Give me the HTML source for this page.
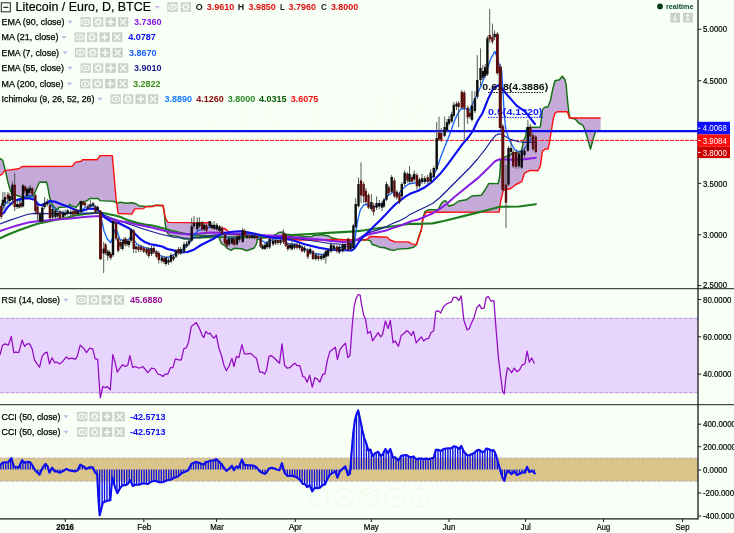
<!DOCTYPE html>
<html><head><meta charset="utf-8"><title>Litecoin / Euro, D, BTCE</title>
<style>html,body{margin:0;padding:0;background:#f7fff6;}body{width:734px;height:533px;overflow:hidden}svg{display:block}</style>
</head><body>
<svg width="734" height="533" viewBox="0 0 734 533" font-family="Liberation Sans, Arial, sans-serif">
<rect width="734" height="533" fill="#f7fff6"/>
<defs><filter id="b" filterUnits="userSpaceOnUse" x="0" y="0" width="734" height="533"><feGaussianBlur stdDeviation="0.45"/></filter><filter id="t" filterUnits="userSpaceOnUse" x="0" y="0" width="734" height="533"><feGaussianBlur stdDeviation="0.28"/></filter></defs>
<g fill="#f9fef3">
<text x="220" y="194.4" font-size="35" textLength="205" lengthAdjust="spacingAndGlyphs">Litecoin / Euro</text>
<text x="200" y="129" font-size="45" textLength="228" lengthAdjust="spacingAndGlyphs">LTCEUR</text>
</g>
<g id="main" filter="url(#b)">
<polygon points="0.0,158.4 2.8,160.3 3.9,165.0 5.9,172.9 7.9,182.0 10.5,191.3 13.1,194.5 17.0,195.5 20.3,196.5 23.0,197.8 26.3,197.2 30.2,196.5 32.8,196.8 35.4,191.3 39.4,182.2 46.4,182.0 47.6,186.0 49.2,195.2 51.2,203.0 53.8,207.0 57.7,209.8 59.0,207.4 65.2,207.0 68.6,206.0 69.6,204.3 70.7,205.7 76.1,207.4 77.5,205.7 80.2,202.0 87.0,200.9 89.7,198.5 97.9,198.5 100.0,200.6 114.0,201.4 117.4,203.4 120.0,202.2 126.8,203.2 131.8,202.7 136.0,203.8 139.4,206.0 145.3,206.5 152.9,206.0 156.3,205.2 163.0,205.5 164.2,212.0 165.2,223.8 166.9,232.2 169.0,235.2 177.4,236.4 184.1,239.0 190.9,239.0 194.3,237.3 200.0,238.0 202.5,237.5 210.0,237.5 216.0,236.0 219.0,237.5 221.3,243.5 225.0,245.8 227.3,248.3 231.0,250.3 234.0,248.3 241.5,248.8 246.8,250.8 254.3,248.0 256.6,243.5 257.3,239.8 261.0,238.3 270.0,237.0 276.0,234.5 278.5,232.5 283.0,232.0 285.3,234.3 292.0,234.8 305.0,236.6 311.7,236.6 314.0,235.3 319.0,235.0 322.7,234.5 324.6,235.3 328.9,236.0 331.3,237.8 338.0,239.3 345.0,239.6 351.8,240.0 366.3,239.7 370.2,240.6 372.2,244.5 376.8,245.8 379.4,247.2 384.7,247.8 390.0,249.8 393.9,250.4 397.8,249.1 408.3,248.5 413.6,247.2 416.4,245.0 418.7,236.8 421.3,230.0 422.8,218.2 425.0,211.6 428.8,209.7 438.1,209.7 441.0,204.1 443.8,201.0 446.0,201.0 448.5,206.0 453.2,205.0 458.8,201.0 466.3,199.8 471.9,196.0 481.3,195.3 485.0,190.0 488.8,183.5 498.2,183.6 499.7,176.0 500.6,160.6 503.4,157.7 513.2,153.5 521.7,150.7 523.4,141.0 525.6,136.6 526.8,127.6 540.3,127.0 541.4,118.6 542.5,109.5 544.8,107.3 548.0,106.8 550.4,100.5 552.7,89.3 555.0,80.7 559.4,79.8 562.3,76.2 565.0,79.8 566.2,84.8 567.3,98.3 569.0,114.0 570.0,118.0 575.2,119.0 578.6,123.0 583.0,125.3 585.3,131.0 587.6,138.8 590.5,149.0 593.2,138.8 595.5,131.6 600.6,131.0 600.6,118.0 569.5,118.0 567.3,111.8 557.2,111.8 555.0,113.0 553.3,118.6 551.5,129.8 549.3,143.3 548.0,149.0 545.2,149.0 542.5,151.2 540.3,165.9 538.0,170.8 530.0,170.4 524.5,173.2 521.7,181.7 516.0,184.5 510.4,188.7 503.4,190.0 500.6,201.4 499.2,212.1 426.0,212.2 423.1,218.2 421.3,230.0 418.7,238.0 416.4,244.6 411.6,243.9 408.3,241.9 395.2,241.9 390.0,240.0 387.3,237.3 370.2,236.5 366.3,239.7 351.8,240.0 345.0,239.8 299.4,240.0 285.0,238.5 265.0,237.5 245.0,236.0 232.5,234.0 228.4,231.5 224.7,228.4 211.2,228.0 210.0,225.5 208.9,222.8 168.1,222.4 165.6,218.7 164.2,212.0 163.0,205.5 154.6,205.5 152.9,206.5 145.3,206.9 143.6,208.6 134.9,208.9 131.8,214.1 118.1,213.5 115.9,197.3 113.6,170.3 112.3,155.6 100.0,155.6 97.2,159.7 82.5,159.7 81.4,161.3 75.3,162.4 72.4,166.2 22.1,166.5 18.8,168.8 4.7,170.6 1.9,174.4 0.0,175.3" fill="#c5a9d8" fill-rule="nonzero"/>
<polyline points="0.0,158.4 2.8,160.3 3.9,165.0 5.9,172.9 7.9,182.0 10.5,191.3 13.1,194.5 17.0,195.5 20.3,196.5 23.0,197.8 26.3,197.2 30.2,196.5 32.8,196.8 35.4,191.3 39.4,182.2 46.4,182.0 47.6,186.0 49.2,195.2 51.2,203.0 53.8,207.0 57.7,209.8 59.0,207.4 65.2,207.0 68.6,206.0 69.6,204.3 70.7,205.7 76.1,207.4 77.5,205.7 80.2,202.0 87.0,200.9 89.7,198.5 97.9,198.5 100.0,200.6 114.0,201.4 117.4,203.4 120.0,202.2 126.8,203.2 131.8,202.7 136.0,203.8 139.4,206.0 145.3,206.5 152.9,206.0 156.3,205.2 163.0,205.5 164.2,212.0 165.2,223.8 166.9,232.2 169.0,235.2 177.4,236.4 184.1,239.0 190.9,239.0 194.3,237.3 200.0,238.0 202.5,237.5 210.0,237.5 216.0,236.0 219.0,237.5 221.3,243.5 225.0,245.8 227.3,248.3 231.0,250.3 234.0,248.3 241.5,248.8 246.8,250.8 254.3,248.0 256.6,243.5 257.3,239.8 261.0,238.3 270.0,237.0 276.0,234.5 278.5,232.5 283.0,232.0 285.3,234.3 292.0,234.8 305.0,236.6 311.7,236.6 314.0,235.3 319.0,235.0 322.7,234.5 324.6,235.3 328.9,236.0 331.3,237.8 338.0,239.3 345.0,239.6 351.8,240.0 366.3,239.7 370.2,240.6 372.2,244.5 376.8,245.8 379.4,247.2 384.7,247.8 390.0,249.8 393.9,250.4 397.8,249.1 408.3,248.5 413.6,247.2 416.4,245.0 418.7,236.8 421.3,230.0 422.8,218.2 425.0,211.6 428.8,209.7 438.1,209.7 441.0,204.1 443.8,201.0 446.0,201.0 448.5,206.0 453.2,205.0 458.8,201.0 466.3,199.8 471.9,196.0 481.3,195.3 485.0,190.0 488.8,183.5 498.2,183.6 499.7,176.0 500.6,160.6 503.4,157.7 513.2,153.5 521.7,150.7 523.4,141.0 525.6,136.6 526.8,127.6 540.3,127.0 541.4,118.6 542.5,109.5 544.8,107.3 548.0,106.8 550.4,100.5 552.7,89.3 555.0,80.7 559.4,79.8 562.3,76.2 565.0,79.8 566.2,84.8 567.3,98.3 569.0,114.0 570.0,118.0 575.2,119.0 578.6,123.0 583.0,125.3 585.3,131.0 587.6,138.8 590.5,149.0 593.2,138.8 595.5,131.6 600.6,131.0" fill="none" stroke="#147014" stroke-width="1.45" stroke-linejoin="round"/>
<polyline points="0.0,175.3 1.9,174.4 4.7,170.6 18.8,168.8 22.1,166.5 72.4,166.2 75.3,162.4 81.4,161.3 82.5,159.7 97.2,159.7 100.0,155.6 112.3,155.6 113.6,170.3 115.9,197.3 118.1,213.5 131.8,214.1 134.9,208.9 143.6,208.6 145.3,206.9 152.9,206.5 154.6,205.5 163.0,205.5 164.2,212.0 165.6,218.7 168.1,222.4 208.9,222.8 210.0,225.5 211.2,228.0 224.7,228.4 228.4,231.5 232.5,234.0 245.0,236.0 265.0,237.5 285.0,238.5 299.4,240.0 345.0,239.8 351.8,240.0 366.3,239.7 370.2,236.5 387.3,237.3 390.0,240.0 395.2,241.9 408.3,241.9 411.6,243.9 416.4,244.6 418.7,238.0 421.3,230.0 423.1,218.2 426.0,212.2 499.2,212.1 500.6,201.4 503.4,190.0 510.4,188.7 516.0,184.5 521.7,181.7 524.5,173.2 530.0,170.4 538.0,170.8 540.3,165.9 542.5,151.2 545.2,149.0 548.0,149.0 549.3,143.3 551.5,129.8 553.3,118.6 555.0,113.0 557.2,111.8 567.3,111.8 569.5,118.0 600.6,118.0" fill="none" stroke="#ff1010" stroke-width="1.4" stroke-linejoin="round"/>
<line x1="0" y1="140.4" x2="698.0" y2="140.4" stroke="#f01010" stroke-width="1" stroke-dasharray="4,1"/>
<polyline points="0.0,238.2 9.4,234.0 18.8,230.3 28.0,226.9 37.5,223.7 47.0,221.7 56.0,219.8 66.0,218.0 73.5,215.8 87.0,213.8 100.5,212.5 114.0,215.3 120.0,216.7 128.4,220.4 136.9,222.9 145.3,224.6 153.8,225.8 162.2,228.0 170.6,230.5 179.0,232.5 187.5,234.2 194.3,234.9 200.0,235.6 220.0,237.0 245.0,237.3 265.0,236.8 275.0,236.4 287.5,235.4 310.0,234.0 332.6,232.6 355.0,231.4 365.0,230.3 372.5,229.0 395.0,226.0 410.0,223.8 421.3,223.8 432.5,223.4 443.8,221.0 455.0,218.2 466.3,215.4 477.5,212.6 488.8,209.7 500.0,206.8 518.9,206.5 535.8,204.2" fill="none" stroke="#1e7d1e" stroke-width="2.15" stroke-linejoin="round" stroke-linecap="round"/>
<polyline points="0.0,224.0 9.4,220.4 18.8,217.2 28.0,214.2 34.7,213.4 45.0,213.6 60.0,213.5 80.0,213.0 100.0,213.2 110.0,217.5 120.0,221.0 130.0,224.5 145.0,229.5 160.0,234.0 175.0,237.5 190.0,238.5 200.0,237.5 215.0,235.0 230.0,234.0 250.0,234.5 270.0,236.0 290.0,237.5 310.0,240.5 330.0,243.5 345.0,244.5 350.0,243.6 366.3,233.8 372.9,231.4 379.4,229.4 386.0,226.8 392.6,223.5 399.1,220.9 405.7,217.6 410.0,214.4 417.5,210.7 425.0,207.3 432.5,203.5 440.0,197.5 447.5,190.0 455.0,182.5 462.5,175.0 470.0,167.5 477.5,159.0 485.0,149.7 490.7,141.3 495.4,135.6 499.2,133.8 503.4,135.2 510.4,139.4 518.9,141.7 524.5,142.3 535.0,142.3" fill="none" stroke="#1a1a9a" stroke-width="1.15" stroke-linejoin="round"/>
<polyline points="0.0,231.0 9.4,227.9 18.8,225.0 28.0,222.6 37.5,221.3 47.0,220.4 56.0,219.4 70.0,218.5 87.0,216.7 100.5,216.0 109.5,218.7 118.6,221.0 128.4,222.6 136.9,224.6 145.3,226.3 153.8,228.0 162.2,230.2 170.6,232.2 179.0,233.5 187.5,234.2 200.0,233.4 210.0,232.5 225.0,233.0 240.0,233.8 255.0,234.5 265.0,235.3 270.0,235.4 282.0,236.2 294.5,237.2 306.8,238.4 319.0,239.6 331.3,240.9 343.6,242.0 350.0,241.6 353.1,241.2 356.0,240.4 359.7,238.6 366.3,235.3 372.9,233.4 379.4,232.0 386.0,230.5 392.6,228.1 399.1,226.1 405.7,223.5 412.3,220.9 417.5,219.7 425.0,216.7 432.5,213.5 440.0,208.8 447.5,203.2 455.0,196.6 462.5,190.4 470.0,184.4 477.5,178.4 485.0,171.3 490.7,165.6 495.4,161.0 500.0,159.3 502.0,159.2 513.2,159.7 524.5,159.2 535.8,157.7" fill="none" stroke="#8a1be6" stroke-width="2.0" stroke-linejoin="round" stroke-linecap="round"/>
<polyline points="0.0,213.0 4.0,206.0 8.0,201.0 11.0,199.0 14.0,198.0 17.0,200.0 20.0,201.0 23.0,198.0 26.0,196.0 30.0,195.5 33.0,196.0 35.4,200.4 39.4,204.4 43.3,205.7 46.0,203.0 48.6,202.4 52.5,207.0 57.8,211.5 65.0,213.0 75.4,211.8 80.0,210.8 82.5,209.5 85.0,207.5 88.5,206.0 93.0,205.7 96.0,207.2 98.6,210.4 100.5,214.2 102.7,225.0 104.0,231.0 107.3,239.0 110.7,242.8 113.0,236.7 115.2,228.8 117.4,232.2 119.7,239.0 123.0,240.6 126.8,240.6 131.0,237.3 133.5,239.0 136.9,244.0 143.6,247.4 150.4,249.0 155.4,251.6 160.5,255.8 165.6,257.5 170.6,256.7 175.7,253.3 180.8,250.8 185.8,247.4 189.2,243.2 192.6,237.3 195.0,234.0 198.0,230.8 204.0,228.5 210.0,227.0 216.0,227.8 220.5,230.0 223.5,233.8 227.3,237.5 232.5,238.3 238.5,237.5 243.0,233.8 247.6,233.8 253.6,235.7 258.0,236.8 261.8,240.5 265.6,242.8 270.0,241.0 274.0,238.8 283.0,238.8 287.5,243.3 296.5,244.5 305.5,249.0 314.5,253.5 323.6,254.6 330.3,250.0 337.0,247.8 346.0,246.7 350.0,246.5 352.5,247.5 354.5,246.0 355.8,233.4 357.7,220.2 360.4,209.7 363.7,204.8 367.6,204.5 372.5,207.6 372.5,207.6 381.5,204.2 387.2,196.3 392.8,192.3 398.4,194.0 403.0,188.4 408.6,184.0 415.3,182.8 422.0,181.7 428.8,180.7 433.5,176.0 437.2,167.5 441.0,156.3 444.7,146.9 448.5,137.5 451.3,130.0 454.2,121.5 457.5,114.0 461.0,108.8 465.4,108.5 469.4,110.4 475.0,99.0 480.7,86.7 486.3,72.0 490.8,58.6 494.9,51.4 497.6,58.6 499.8,66.4 501.6,70.0 503.2,94.6 504.3,117.0 506.2,131.0 510.4,142.3 514.6,149.3 518.9,152.0 523.0,150.7 527.3,145.0 530.0,139.4 534.4,138.0" fill="none" stroke="#1560ff" stroke-width="1.3" stroke-linejoin="round"/>
<polyline points="0.0,214.7 3.8,212.9 7.5,207.2 11.3,203.5 15.0,200.7 18.8,199.2 24.4,198.4 30.0,198.4 34.7,199.7 37.5,204.4 41.3,205.3 45.0,203.5 49.7,201.0 54.4,201.6 60.0,203.8 66.8,206.3 73.5,209.0 78.0,210.8 82.5,210.8 89.3,208.6 96.0,209.0 100.5,212.0 105.0,217.6 111.8,222.0 118.6,223.0 125.0,226.3 130.0,228.8 135.2,233.9 140.3,239.0 145.3,242.3 150.4,244.3 157.0,245.4 162.2,246.5 167.3,249.0 174.0,250.4 180.8,252.5 187.5,252.0 194.3,249.4 201.0,245.0 207.0,242.0 213.0,239.0 219.0,235.3 225.0,233.0 232.5,231.8 240.0,231.2 247.5,232.3 255.0,233.8 262.6,235.8 270.0,237.5 278.5,237.9 292.0,240.0 305.5,244.5 319.0,247.8 332.6,250.0 346.0,250.2 351.8,250.4 354.5,248.5 358.4,242.6 363.7,236.0 368.9,231.4 374.2,226.1 379.4,220.9 384.7,215.6 390.0,209.7 395.2,204.5 400.4,200.5 405.7,196.3 410.0,193.8 417.5,191.0 425.0,187.2 432.5,181.6 440.0,174.1 447.5,164.7 455.0,154.4 462.5,144.1 468.2,137.5 472.9,131.0 477.6,121.0 482.6,113.0 488.4,98.2 493.3,88.4 498.2,85.3 501.9,88.4 506.8,94.5 516.6,105.6 525.2,111.7 530.0,117.8 535.0,124.0" fill="none" stroke="#0808f0" stroke-width="2.1" stroke-linejoin="round" stroke-linecap="round"/>
<line x1="0" y1="131.1" x2="698.0" y2="131.1" stroke="#0a0af0" stroke-width="2.3"/>
<g font-weight="bold" font-size="9.8">
<text x="482.3" y="89.9" fill="#101010" textLength="66" lengthAdjust="spacingAndGlyphs">0.618(4.3886)</text>
<line x1="488" y1="92.5" x2="543" y2="92.5" stroke="#101010" stroke-width="1" stroke-dasharray="1.5,1.2"/>
<text x="488.1" y="115" fill="#1414ff" textLength="54.3" lengthAdjust="spacingAndGlyphs">0.5(4.1320)</text>
<line x1="488" y1="117.4" x2="543" y2="117.4" stroke="#1414ff" stroke-width="1" stroke-dasharray="1.5,1.2"/>
</g>
<g>
<line x1="1.3" y1="203.0" x2="1.3" y2="219.0" stroke="#4a4a4a" stroke-width="0.9"/>
<rect x="0.10" y="205.7" width="2.4" height="11.2" fill="#5c0f0f"/>
<line x1="2.9" y1="192.0" x2="2.9" y2="211.0" stroke="#4a4a4a" stroke-width="0.9"/>
<rect x="1.70" y="199.8" width="2.4" height="5.9" fill="#0c0c0c"/>
<line x1="4.9" y1="192.0" x2="4.9" y2="209.6" stroke="#4a4a4a" stroke-width="0.9"/>
<rect x="3.70" y="197.0" width="2.4" height="6.0" fill="#0c0c0c"/>
<line x1="7.9" y1="192.0" x2="7.9" y2="204.4" stroke="#4a4a4a" stroke-width="0.9"/>
<rect x="6.70" y="194.5" width="2.4" height="4.9" fill="#5c0f0f"/>
<line x1="9.7" y1="193.0" x2="9.7" y2="204.4" stroke="#4a4a4a" stroke-width="0.9"/>
<rect x="8.50" y="196.0" width="2.4" height="5.0" fill="#0c0c0c"/>
<line x1="12.4" y1="181.4" x2="12.4" y2="205.0" stroke="#4a4a4a" stroke-width="0.9"/>
<rect x="11.20" y="184.7" width="2.4" height="15.3" fill="#0c0c0c"/>
<line x1="14.7" y1="173.1" x2="14.7" y2="211.0" stroke="#4a4a4a" stroke-width="0.9"/>
<rect x="13.50" y="184.7" width="2.4" height="22.3" fill="#5c0f0f"/>
<line x1="17.2" y1="200.0" x2="17.2" y2="209.0" stroke="#4a4a4a" stroke-width="0.9"/>
<rect x="16.00" y="204.0" width="2.4" height="3.0" fill="#0c0c0c"/>
<line x1="19.3" y1="200.0" x2="19.3" y2="208.5" stroke="#4a4a4a" stroke-width="0.9"/>
<rect x="18.10" y="204.5" width="2.4" height="2.8" fill="#0c0c0c"/>
<line x1="21.0" y1="201.0" x2="21.0" y2="208.0" stroke="#4a4a4a" stroke-width="0.9"/>
<rect x="19.80" y="203.0" width="2.4" height="3.5" fill="#5c0f0f"/>
<line x1="23.0" y1="184.0" x2="23.0" y2="207.5" stroke="#4a4a4a" stroke-width="0.9"/>
<rect x="21.80" y="185.3" width="2.4" height="21.1" fill="#0c0c0c"/>
<line x1="25.0" y1="185.0" x2="25.0" y2="193.0" stroke="#4a4a4a" stroke-width="0.9"/>
<rect x="23.80" y="186.6" width="2.4" height="4.7" fill="#5c0f0f"/>
<line x1="27.0" y1="187.0" x2="27.0" y2="197.5" stroke="#4a4a4a" stroke-width="0.9"/>
<rect x="25.80" y="188.6" width="2.4" height="7.3" fill="#0c0c0c"/>
<line x1="29.0" y1="186.0" x2="29.0" y2="195.0" stroke="#4a4a4a" stroke-width="0.9"/>
<rect x="27.80" y="189.0" width="2.4" height="4.0" fill="#0c0c0c"/>
<line x1="30.4" y1="185.3" x2="30.4" y2="193.0" stroke="#4a4a4a" stroke-width="0.9"/>
<rect x="29.20" y="188.0" width="2.4" height="2.6" fill="#0c0c0c"/>
<line x1="32.3" y1="187.0" x2="32.3" y2="196.0" stroke="#4a4a4a" stroke-width="0.9"/>
<rect x="31.10" y="188.6" width="2.4" height="5.9" fill="#5c0f0f"/>
<line x1="35.4" y1="193.5" x2="35.4" y2="213.0" stroke="#4a4a4a" stroke-width="0.9"/>
<rect x="34.20" y="195.2" width="2.4" height="15.8" fill="#5c0f0f"/>
<line x1="37.5" y1="205.0" x2="37.5" y2="220.0" stroke="#4a4a4a" stroke-width="0.9"/>
<rect x="36.30" y="206.4" width="2.4" height="7.8" fill="#5c0f0f"/>
<line x1="40.0" y1="212.0" x2="40.0" y2="222.5" stroke="#4a4a4a" stroke-width="0.9"/>
<rect x="38.80" y="214.2" width="2.4" height="7.3" fill="#0c0c0c"/>
<line x1="42.3" y1="206.0" x2="42.3" y2="222.5" stroke="#4a4a4a" stroke-width="0.9"/>
<rect x="41.10" y="207.7" width="2.4" height="13.8" fill="#0c0c0c"/>
<line x1="44.6" y1="197.0" x2="44.6" y2="209.0" stroke="#4a4a4a" stroke-width="0.9"/>
<rect x="43.40" y="203.0" width="2.4" height="4.0" fill="#0c0c0c"/>
<line x1="47.3" y1="199.0" x2="47.3" y2="206.5" stroke="#4a4a4a" stroke-width="0.9"/>
<rect x="46.10" y="201.8" width="2.4" height="2.6" fill="#0c0c0c"/>
<line x1="49.9" y1="203.5" x2="49.9" y2="220.0" stroke="#4a4a4a" stroke-width="0.9"/>
<rect x="48.70" y="205.0" width="2.4" height="13.2" fill="#5c0f0f"/>
<line x1="52.5" y1="207.0" x2="52.5" y2="219.0" stroke="#4a4a4a" stroke-width="0.9"/>
<rect x="51.30" y="209.0" width="2.4" height="8.5" fill="#0c0c0c"/>
<line x1="55.4" y1="209.0" x2="55.4" y2="218.5" stroke="#4a4a4a" stroke-width="0.9"/>
<rect x="54.20" y="210.4" width="2.4" height="6.8" fill="#0c0c0c"/>
<line x1="57.6" y1="211.0" x2="57.6" y2="218.0" stroke="#4a4a4a" stroke-width="0.9"/>
<rect x="56.40" y="213.0" width="2.4" height="3.5" fill="#0c0c0c"/>
<line x1="60.1" y1="210.0" x2="60.1" y2="219.5" stroke="#4a4a4a" stroke-width="0.9"/>
<rect x="58.90" y="211.5" width="2.4" height="6.8" fill="#5c0f0f"/>
<line x1="63.2" y1="210.5" x2="63.2" y2="218.5" stroke="#4a4a4a" stroke-width="0.9"/>
<rect x="62.00" y="212.5" width="2.4" height="4.7" fill="#0c0c0c"/>
<line x1="65.2" y1="209.8" x2="65.2" y2="216.6" stroke="#4a4a4a" stroke-width="0.9"/>
<rect x="64.00" y="213.0" width="2.4" height="2.2" fill="#0c0c0c"/>
<line x1="67.6" y1="209.2" x2="67.6" y2="215.5" stroke="#4a4a4a" stroke-width="0.9"/>
<rect x="66.40" y="210.4" width="2.4" height="3.4" fill="#0c0c0c"/>
<line x1="70.7" y1="209.8" x2="70.7" y2="217.5" stroke="#4a4a4a" stroke-width="0.9"/>
<rect x="69.50" y="212.0" width="2.4" height="2.2" fill="#0c0c0c"/>
<line x1="73.0" y1="210.0" x2="73.0" y2="216.5" stroke="#4a4a4a" stroke-width="0.9"/>
<rect x="71.80" y="211.5" width="2.4" height="3.0" fill="#5c0f0f"/>
<line x1="75.4" y1="209.0" x2="75.4" y2="215.5" stroke="#4a4a4a" stroke-width="0.9"/>
<rect x="74.20" y="210.0" width="2.4" height="4.2" fill="#5c0f0f"/>
<line x1="77.8" y1="209.5" x2="77.8" y2="215.5" stroke="#4a4a4a" stroke-width="0.9"/>
<rect x="76.60" y="211.0" width="2.4" height="3.0" fill="#0c0c0c"/>
<line x1="80.9" y1="200.5" x2="80.9" y2="213.0" stroke="#4a4a4a" stroke-width="0.9"/>
<rect x="79.70" y="201.2" width="2.4" height="10.6" fill="#0c0c0c"/>
<line x1="82.9" y1="201.0" x2="82.9" y2="206.0" stroke="#4a4a4a" stroke-width="0.9"/>
<rect x="81.70" y="202.0" width="2.4" height="2.5" fill="#5c0f0f"/>
<line x1="85.0" y1="201.5" x2="85.0" y2="207.0" stroke="#4a4a4a" stroke-width="0.9"/>
<rect x="83.80" y="202.6" width="2.4" height="2.7" fill="#5c0f0f"/>
<line x1="88.0" y1="204.0" x2="88.0" y2="209.5" stroke="#4a4a4a" stroke-width="0.9"/>
<rect x="86.80" y="206.5" width="2.4" height="2.2" fill="#5c0f0f"/>
<line x1="90.4" y1="200.2" x2="90.4" y2="208.0" stroke="#4a4a4a" stroke-width="0.9"/>
<rect x="89.20" y="204.3" width="2.4" height="2.2" fill="#0c0c0c"/>
<line x1="93.1" y1="202.0" x2="93.1" y2="207.5" stroke="#4a4a4a" stroke-width="0.9"/>
<rect x="91.90" y="203.3" width="2.4" height="2.2" fill="#0c0c0c"/>
<line x1="95.5" y1="205.0" x2="95.5" y2="214.0" stroke="#4a4a4a" stroke-width="0.9"/>
<rect x="94.30" y="206.3" width="2.4" height="6.2" fill="#5c0f0f"/>
<line x1="97.7" y1="205.5" x2="97.7" y2="212.0" stroke="#4a4a4a" stroke-width="0.9"/>
<rect x="96.50" y="207.0" width="2.4" height="3.4" fill="#0c0c0c"/>
<line x1="100.5" y1="210.0" x2="100.5" y2="260.0" stroke="#4a4a4a" stroke-width="0.9"/>
<rect x="99.05" y="211.3" width="2.9" height="47.9" fill="#5c0f0f"/>
<line x1="103.7" y1="242.0" x2="103.7" y2="273.0" stroke="#4a4a4a" stroke-width="0.9"/>
<rect x="102.50" y="248.6" width="2.4" height="4.9" fill="#0c0c0c"/>
<line x1="105.6" y1="243.0" x2="105.6" y2="255.0" stroke="#4a4a4a" stroke-width="0.9"/>
<rect x="104.40" y="244.4" width="2.4" height="8.4" fill="#5c0f0f"/>
<line x1="107.7" y1="249.5" x2="107.7" y2="260.5" stroke="#4a4a4a" stroke-width="0.9"/>
<rect x="106.50" y="251.4" width="2.4" height="4.2" fill="#0c0c0c"/>
<line x1="109.3" y1="250.0" x2="109.3" y2="258.0" stroke="#4a4a4a" stroke-width="0.9"/>
<rect x="108.10" y="252.0" width="2.4" height="3.5" fill="#0c0c0c"/>
<line x1="110.8" y1="252.0" x2="110.8" y2="260.0" stroke="#4a4a4a" stroke-width="0.9"/>
<rect x="109.60" y="254.0" width="2.4" height="3.7" fill="#5c0f0f"/>
<line x1="113.0" y1="219.5" x2="113.0" y2="257.0" stroke="#4a4a4a" stroke-width="0.9"/>
<rect x="111.80" y="221.0" width="2.4" height="34.2" fill="#0c0c0c"/>
<line x1="116.1" y1="221.0" x2="116.1" y2="240.5" stroke="#4a4a4a" stroke-width="0.9"/>
<rect x="114.90" y="222.5" width="2.4" height="16.2" fill="#5c0f0f"/>
<line x1="118.2" y1="237.0" x2="118.2" y2="252.5" stroke="#4a4a4a" stroke-width="0.9"/>
<rect x="117.00" y="238.7" width="2.4" height="12.0" fill="#5c0f0f"/>
<line x1="120.4" y1="240.0" x2="120.4" y2="249.0" stroke="#4a4a4a" stroke-width="0.9"/>
<rect x="119.20" y="242.0" width="2.4" height="4.5" fill="#5c0f0f"/>
<line x1="122.5" y1="240.0" x2="122.5" y2="250.5" stroke="#4a4a4a" stroke-width="0.9"/>
<rect x="121.30" y="242.0" width="2.4" height="7.0" fill="#0c0c0c"/>
<line x1="123.9" y1="237.5" x2="123.9" y2="246.0" stroke="#4a4a4a" stroke-width="0.9"/>
<rect x="122.70" y="239.4" width="2.4" height="4.3" fill="#0c0c0c"/>
<line x1="125.6" y1="237.0" x2="125.6" y2="246.5" stroke="#4a4a4a" stroke-width="0.9"/>
<rect x="124.40" y="238.7" width="2.4" height="5.7" fill="#5c0f0f"/>
<line x1="127.2" y1="239.0" x2="127.2" y2="246.0" stroke="#4a4a4a" stroke-width="0.9"/>
<rect x="126.00" y="241.0" width="2.4" height="3.0" fill="#0c0c0c"/>
<line x1="128.9" y1="239.0" x2="128.9" y2="247.5" stroke="#4a4a4a" stroke-width="0.9"/>
<rect x="127.70" y="240.8" width="2.4" height="4.2" fill="#0c0c0c"/>
<line x1="131.0" y1="228.0" x2="131.0" y2="243.0" stroke="#4a4a4a" stroke-width="0.9"/>
<rect x="129.80" y="229.7" width="2.4" height="10.9" fill="#0c0c0c"/>
<line x1="133.7" y1="229.0" x2="133.7" y2="253.0" stroke="#4a4a4a" stroke-width="0.9"/>
<rect x="132.50" y="230.5" width="2.4" height="18.5" fill="#5c0f0f"/>
<line x1="136.0" y1="244.0" x2="136.0" y2="253.0" stroke="#4a4a4a" stroke-width="0.9"/>
<rect x="134.80" y="246.5" width="2.4" height="2.5" fill="#0c0c0c"/>
<line x1="138.5" y1="245.0" x2="138.5" y2="252.0" stroke="#4a4a4a" stroke-width="0.9"/>
<rect x="137.30" y="246.5" width="2.4" height="3.5" fill="#5c0f0f"/>
<line x1="141.0" y1="245.0" x2="141.0" y2="252.0" stroke="#4a4a4a" stroke-width="0.9"/>
<rect x="139.80" y="246.5" width="2.4" height="3.5" fill="#5c0f0f"/>
<line x1="143.7" y1="246.0" x2="143.7" y2="253.0" stroke="#4a4a4a" stroke-width="0.9"/>
<rect x="142.50" y="248.0" width="2.4" height="3.6" fill="#5c0f0f"/>
<line x1="146.5" y1="247.0" x2="146.5" y2="255.0" stroke="#4a4a4a" stroke-width="0.9"/>
<rect x="145.30" y="249.0" width="2.4" height="4.0" fill="#5c0f0f"/>
<line x1="148.7" y1="247.0" x2="148.7" y2="258.0" stroke="#4a4a4a" stroke-width="0.9"/>
<rect x="147.50" y="249.0" width="2.4" height="7.0" fill="#5c0f0f"/>
<line x1="151.5" y1="245.7" x2="151.5" y2="256.0" stroke="#4a4a4a" stroke-width="0.9"/>
<rect x="150.30" y="248.0" width="2.4" height="6.0" fill="#0c0c0c"/>
<line x1="153.8" y1="246.0" x2="153.8" y2="254.0" stroke="#4a4a4a" stroke-width="0.9"/>
<rect x="152.60" y="248.0" width="2.4" height="4.5" fill="#5c0f0f"/>
<line x1="156.5" y1="250.0" x2="156.5" y2="258.0" stroke="#4a4a4a" stroke-width="0.9"/>
<rect x="155.30" y="251.6" width="2.4" height="5.1" fill="#5c0f0f"/>
<line x1="158.8" y1="251.0" x2="158.8" y2="263.4" stroke="#4a4a4a" stroke-width="0.9"/>
<rect x="157.60" y="253.0" width="2.4" height="7.0" fill="#5c0f0f"/>
<line x1="161.8" y1="255.0" x2="161.8" y2="263.0" stroke="#4a4a4a" stroke-width="0.9"/>
<rect x="160.60" y="257.5" width="2.4" height="3.5" fill="#0c0c0c"/>
<line x1="164.0" y1="256.0" x2="164.0" y2="264.0" stroke="#4a4a4a" stroke-width="0.9"/>
<rect x="162.80" y="258.4" width="2.4" height="3.6" fill="#5c0f0f"/>
<line x1="166.0" y1="256.0" x2="166.0" y2="266.0" stroke="#4a4a4a" stroke-width="0.9"/>
<rect x="164.80" y="257.5" width="2.4" height="6.5" fill="#0c0c0c"/>
<line x1="168.5" y1="258.0" x2="168.5" y2="265.0" stroke="#4a4a4a" stroke-width="0.9"/>
<rect x="167.30" y="260.0" width="2.4" height="2.6" fill="#0c0c0c"/>
<line x1="171.0" y1="253.0" x2="171.0" y2="263.0" stroke="#4a4a4a" stroke-width="0.9"/>
<rect x="169.80" y="255.0" width="2.4" height="6.7" fill="#0c0c0c"/>
<line x1="173.5" y1="254.0" x2="173.5" y2="261.0" stroke="#4a4a4a" stroke-width="0.9"/>
<rect x="172.30" y="256.7" width="2.4" height="2.5" fill="#0c0c0c"/>
<line x1="176.0" y1="249.0" x2="176.0" y2="258.0" stroke="#4a4a4a" stroke-width="0.9"/>
<rect x="174.80" y="250.8" width="2.4" height="5.9" fill="#0c0c0c"/>
<line x1="178.5" y1="247.0" x2="178.5" y2="255.0" stroke="#4a4a4a" stroke-width="0.9"/>
<rect x="177.30" y="249.0" width="2.4" height="3.8" fill="#5c0f0f"/>
<line x1="180.7" y1="247.0" x2="180.7" y2="255.0" stroke="#4a4a4a" stroke-width="0.9"/>
<rect x="179.50" y="249.0" width="2.4" height="4.3" fill="#0c0c0c"/>
<line x1="184.0" y1="242.0" x2="184.0" y2="253.0" stroke="#4a4a4a" stroke-width="0.9"/>
<rect x="182.80" y="244.3" width="2.4" height="7.3" fill="#0c0c0c"/>
<line x1="186.5" y1="241.0" x2="186.5" y2="248.0" stroke="#4a4a4a" stroke-width="0.9"/>
<rect x="185.30" y="243.7" width="2.4" height="2.8" fill="#0c0c0c"/>
<line x1="189.0" y1="238.0" x2="189.0" y2="246.0" stroke="#4a4a4a" stroke-width="0.9"/>
<rect x="187.80" y="240.6" width="2.4" height="3.4" fill="#0c0c0c"/>
<line x1="191.7" y1="217.8" x2="191.7" y2="242.0" stroke="#4a4a4a" stroke-width="0.9"/>
<rect x="190.50" y="226.3" width="2.4" height="14.3" fill="#0c0c0c"/>
<line x1="194.0" y1="216.0" x2="194.0" y2="229.0" stroke="#4a4a4a" stroke-width="0.9"/>
<rect x="192.80" y="223.0" width="2.4" height="3.3" fill="#0c0c0c"/>
<line x1="197.3" y1="217.3" x2="197.3" y2="231.0" stroke="#4a4a4a" stroke-width="0.9"/>
<rect x="196.10" y="222.5" width="2.4" height="6.8" fill="#0c0c0c"/>
<line x1="199.4" y1="217.3" x2="199.4" y2="228.0" stroke="#4a4a4a" stroke-width="0.9"/>
<rect x="198.20" y="222.5" width="2.4" height="3.8" fill="#0c0c0c"/>
<line x1="202.2" y1="221.0" x2="202.2" y2="231.0" stroke="#4a4a4a" stroke-width="0.9"/>
<rect x="201.00" y="222.5" width="2.4" height="6.8" fill="#5c0f0f"/>
<line x1="204.3" y1="223.0" x2="204.3" y2="231.0" stroke="#4a4a4a" stroke-width="0.9"/>
<rect x="203.10" y="224.8" width="2.4" height="4.5" fill="#0c0c0c"/>
<line x1="206.5" y1="224.0" x2="206.5" y2="233.8" stroke="#4a4a4a" stroke-width="0.9"/>
<rect x="205.30" y="225.5" width="2.4" height="5.3" fill="#5c0f0f"/>
<line x1="209.7" y1="221.0" x2="209.7" y2="228.0" stroke="#4a4a4a" stroke-width="0.9"/>
<rect x="208.50" y="221.0" width="2.4" height="5.3" fill="#0c0c0c"/>
<line x1="211.8" y1="222.0" x2="211.8" y2="229.0" stroke="#4a4a4a" stroke-width="0.9"/>
<rect x="210.60" y="224.8" width="2.4" height="3.0" fill="#0c0c0c"/>
<line x1="214.2" y1="221.0" x2="214.2" y2="230.0" stroke="#4a4a4a" stroke-width="0.9"/>
<rect x="213.00" y="224.8" width="2.4" height="3.7" fill="#0c0c0c"/>
<line x1="216.8" y1="223.0" x2="216.8" y2="231.0" stroke="#4a4a4a" stroke-width="0.9"/>
<rect x="215.60" y="224.8" width="2.4" height="4.5" fill="#0c0c0c"/>
<line x1="219.5" y1="225.0" x2="219.5" y2="232.0" stroke="#4a4a4a" stroke-width="0.9"/>
<rect x="218.30" y="226.3" width="2.4" height="4.5" fill="#0c0c0c"/>
<line x1="222.0" y1="226.0" x2="222.0" y2="235.0" stroke="#4a4a4a" stroke-width="0.9"/>
<rect x="220.80" y="227.8" width="2.4" height="6.0" fill="#5c0f0f"/>
<line x1="225.0" y1="233.0" x2="225.0" y2="245.0" stroke="#4a4a4a" stroke-width="0.9"/>
<rect x="223.80" y="234.5" width="2.4" height="9.0" fill="#5c0f0f"/>
<line x1="227.0" y1="238.0" x2="227.0" y2="248.8" stroke="#4a4a4a" stroke-width="0.9"/>
<rect x="225.80" y="239.8" width="2.4" height="6.0" fill="#5c0f0f"/>
<line x1="229.2" y1="237.0" x2="229.2" y2="246.0" stroke="#4a4a4a" stroke-width="0.9"/>
<rect x="228.00" y="238.3" width="2.4" height="6.0" fill="#0c0c0c"/>
<line x1="232.2" y1="236.0" x2="232.2" y2="245.0" stroke="#4a4a4a" stroke-width="0.9"/>
<rect x="231.00" y="238.3" width="2.4" height="5.2" fill="#0c0c0c"/>
<line x1="234.3" y1="237.0" x2="234.3" y2="246.0" stroke="#4a4a4a" stroke-width="0.9"/>
<rect x="233.10" y="238.7" width="2.4" height="6.0" fill="#5c0f0f"/>
<line x1="237.0" y1="235.0" x2="237.0" y2="246.0" stroke="#4a4a4a" stroke-width="0.9"/>
<rect x="235.80" y="236.8" width="2.4" height="7.5" fill="#0c0c0c"/>
<line x1="239.3" y1="234.0" x2="239.3" y2="242.0" stroke="#4a4a4a" stroke-width="0.9"/>
<rect x="238.10" y="236.0" width="2.4" height="3.8" fill="#0c0c0c"/>
<line x1="242.7" y1="227.8" x2="242.7" y2="243.0" stroke="#4a4a4a" stroke-width="0.9"/>
<rect x="241.50" y="230.0" width="2.4" height="12.0" fill="#0c0c0c"/>
<line x1="244.8" y1="229.0" x2="244.8" y2="237.0" stroke="#4a4a4a" stroke-width="0.9"/>
<rect x="243.60" y="230.8" width="2.4" height="4.5" fill="#5c0f0f"/>
<line x1="247.0" y1="233.0" x2="247.0" y2="239.0" stroke="#4a4a4a" stroke-width="0.9"/>
<rect x="245.80" y="235.3" width="2.4" height="2.2" fill="#0c0c0c"/>
<line x1="249.5" y1="234.0" x2="249.5" y2="239.0" stroke="#4a4a4a" stroke-width="0.9"/>
<rect x="248.30" y="235.3" width="2.4" height="2.2" fill="#5c0f0f"/>
<line x1="252.0" y1="234.0" x2="252.0" y2="239.0" stroke="#4a4a4a" stroke-width="0.9"/>
<rect x="250.80" y="235.3" width="2.4" height="2.5" fill="#0c0c0c"/>
<line x1="254.5" y1="234.0" x2="254.5" y2="239.5" stroke="#4a4a4a" stroke-width="0.9"/>
<rect x="253.30" y="235.5" width="2.4" height="2.5" fill="#0c0c0c"/>
<line x1="257.0" y1="234.5" x2="257.0" y2="240.0" stroke="#4a4a4a" stroke-width="0.9"/>
<rect x="255.80" y="236.0" width="2.4" height="2.3" fill="#5c0f0f"/>
<line x1="260.6" y1="237.0" x2="260.6" y2="248.0" stroke="#4a4a4a" stroke-width="0.9"/>
<rect x="259.40" y="238.3" width="2.4" height="8.2" fill="#5c0f0f"/>
<line x1="262.6" y1="244.0" x2="262.6" y2="249.6" stroke="#4a4a4a" stroke-width="0.9"/>
<rect x="261.40" y="245.8" width="2.4" height="3.0" fill="#0c0c0c"/>
<line x1="264.8" y1="243.0" x2="264.8" y2="250.0" stroke="#4a4a4a" stroke-width="0.9"/>
<rect x="263.60" y="245.0" width="2.4" height="3.8" fill="#0c0c0c"/>
<line x1="267.0" y1="241.0" x2="267.0" y2="249.0" stroke="#4a4a4a" stroke-width="0.9"/>
<rect x="265.80" y="242.8" width="2.4" height="4.5" fill="#0c0c0c"/>
<line x1="269.6" y1="238.0" x2="269.6" y2="249.0" stroke="#4a4a4a" stroke-width="0.9"/>
<rect x="268.40" y="239.0" width="2.4" height="8.3" fill="#0c0c0c"/>
<line x1="273.0" y1="239.0" x2="273.0" y2="246.0" stroke="#4a4a4a" stroke-width="0.9"/>
<rect x="271.80" y="240.5" width="2.4" height="3.8" fill="#0c0c0c"/>
<line x1="275.5" y1="239.0" x2="275.5" y2="245.0" stroke="#4a4a4a" stroke-width="0.9"/>
<rect x="274.30" y="240.0" width="2.4" height="3.3" fill="#0c0c0c"/>
<line x1="278.0" y1="238.5" x2="278.0" y2="245.0" stroke="#4a4a4a" stroke-width="0.9"/>
<rect x="276.80" y="240.0" width="2.4" height="3.0" fill="#5c0f0f"/>
<line x1="280.5" y1="238.5" x2="280.5" y2="245.0" stroke="#4a4a4a" stroke-width="0.9"/>
<rect x="279.30" y="240.0" width="2.4" height="3.0" fill="#0c0c0c"/>
<line x1="283.5" y1="229.4" x2="283.5" y2="244.0" stroke="#4a4a4a" stroke-width="0.9"/>
<rect x="282.30" y="233.2" width="2.4" height="9.0" fill="#5c0f0f"/>
<line x1="285.7" y1="233.0" x2="285.7" y2="247.0" stroke="#4a4a4a" stroke-width="0.9"/>
<rect x="284.50" y="234.3" width="2.4" height="11.3" fill="#5c0f0f"/>
<line x1="287.8" y1="243.0" x2="287.8" y2="251.2" stroke="#4a4a4a" stroke-width="0.9"/>
<rect x="286.60" y="244.5" width="2.4" height="4.5" fill="#5c0f0f"/>
<line x1="290.0" y1="243.0" x2="290.0" y2="250.0" stroke="#4a4a4a" stroke-width="0.9"/>
<rect x="288.80" y="245.0" width="2.4" height="3.0" fill="#0c0c0c"/>
<line x1="292.0" y1="236.0" x2="292.0" y2="250.5" stroke="#4a4a4a" stroke-width="0.9"/>
<rect x="290.80" y="244.5" width="2.4" height="4.5" fill="#0c0c0c"/>
<line x1="294.5" y1="243.0" x2="294.5" y2="249.5" stroke="#4a4a4a" stroke-width="0.9"/>
<rect x="293.30" y="244.5" width="2.4" height="3.3" fill="#0c0c0c"/>
<line x1="297.0" y1="243.0" x2="297.0" y2="249.5" stroke="#4a4a4a" stroke-width="0.9"/>
<rect x="295.80" y="244.5" width="2.4" height="3.3" fill="#5c0f0f"/>
<line x1="299.5" y1="243.5" x2="299.5" y2="250.0" stroke="#4a4a4a" stroke-width="0.9"/>
<rect x="298.30" y="245.0" width="2.4" height="3.0" fill="#0c0c0c"/>
<line x1="302.0" y1="245.0" x2="302.0" y2="252.5" stroke="#4a4a4a" stroke-width="0.9"/>
<rect x="300.80" y="246.7" width="2.4" height="4.5" fill="#5c0f0f"/>
<line x1="304.5" y1="246.0" x2="304.5" y2="253.0" stroke="#4a4a4a" stroke-width="0.9"/>
<rect x="303.30" y="247.8" width="2.4" height="3.4" fill="#0c0c0c"/>
<line x1="307.8" y1="248.0" x2="307.8" y2="259.0" stroke="#4a4a4a" stroke-width="0.9"/>
<rect x="306.60" y="250.0" width="2.4" height="6.8" fill="#5c0f0f"/>
<line x1="310.2" y1="247.5" x2="310.2" y2="255.0" stroke="#4a4a4a" stroke-width="0.9"/>
<rect x="309.00" y="249.0" width="2.4" height="4.5" fill="#0c0c0c"/>
<line x1="313.0" y1="250.0" x2="313.0" y2="260.0" stroke="#4a4a4a" stroke-width="0.9"/>
<rect x="311.80" y="251.2" width="2.4" height="7.8" fill="#5c0f0f"/>
<line x1="315.7" y1="253.0" x2="315.7" y2="260.5" stroke="#4a4a4a" stroke-width="0.9"/>
<rect x="314.50" y="254.6" width="2.4" height="4.4" fill="#0c0c0c"/>
<line x1="318.4" y1="254.0" x2="318.4" y2="261.0" stroke="#4a4a4a" stroke-width="0.9"/>
<rect x="317.20" y="255.7" width="2.4" height="3.3" fill="#5c0f0f"/>
<line x1="321.3" y1="254.0" x2="321.3" y2="260.5" stroke="#4a4a4a" stroke-width="0.9"/>
<rect x="320.10" y="255.7" width="2.4" height="3.3" fill="#0c0c0c"/>
<line x1="323.8" y1="253.0" x2="323.8" y2="260.0" stroke="#4a4a4a" stroke-width="0.9"/>
<rect x="322.60" y="254.6" width="2.4" height="3.4" fill="#0c0c0c"/>
<line x1="325.8" y1="250.0" x2="325.8" y2="263.6" stroke="#4a4a4a" stroke-width="0.9"/>
<rect x="324.60" y="251.2" width="2.4" height="5.6" fill="#0c0c0c"/>
<line x1="328.0" y1="248.5" x2="328.0" y2="257.0" stroke="#4a4a4a" stroke-width="0.9"/>
<rect x="326.80" y="250.0" width="2.4" height="5.7" fill="#0c0c0c"/>
<line x1="331.0" y1="242.2" x2="331.0" y2="253.0" stroke="#4a4a4a" stroke-width="0.9"/>
<rect x="329.80" y="244.5" width="2.4" height="6.7" fill="#0c0c0c"/>
<line x1="333.7" y1="244.0" x2="333.7" y2="251.0" stroke="#4a4a4a" stroke-width="0.9"/>
<rect x="332.50" y="245.6" width="2.4" height="3.4" fill="#0c0c0c"/>
<line x1="336.8" y1="245.0" x2="336.8" y2="253.0" stroke="#4a4a4a" stroke-width="0.9"/>
<rect x="335.60" y="246.7" width="2.4" height="4.5" fill="#5c0f0f"/>
<line x1="339.3" y1="245.0" x2="339.3" y2="254.0" stroke="#4a4a4a" stroke-width="0.9"/>
<rect x="338.10" y="246.7" width="2.4" height="5.6" fill="#0c0c0c"/>
<line x1="342.7" y1="243.0" x2="342.7" y2="252.5" stroke="#4a4a4a" stroke-width="0.9"/>
<rect x="341.50" y="244.5" width="2.4" height="6.7" fill="#0c0c0c"/>
<line x1="345.0" y1="243.0" x2="345.0" y2="251.0" stroke="#4a4a4a" stroke-width="0.9"/>
<rect x="343.80" y="244.5" width="2.4" height="4.5" fill="#0c0c0c"/>
<line x1="348.3" y1="237.5" x2="348.3" y2="251.5" stroke="#4a4a4a" stroke-width="0.9"/>
<rect x="347.10" y="238.8" width="2.4" height="11.2" fill="#5c0f0f"/>
<line x1="350.6" y1="242.0" x2="350.6" y2="250.5" stroke="#4a4a4a" stroke-width="0.9"/>
<rect x="349.40" y="243.3" width="2.4" height="5.7" fill="#0c0c0c"/>
<line x1="353.4" y1="224.0" x2="353.4" y2="249.0" stroke="#4a4a4a" stroke-width="0.9"/>
<rect x="352.20" y="225.4" width="2.4" height="22.6" fill="#0c0c0c"/>
<line x1="355.7" y1="198.3" x2="355.7" y2="228.0" stroke="#4a4a4a" stroke-width="0.9"/>
<rect x="354.50" y="204.0" width="2.4" height="23.0" fill="#0c0c0c"/>
<line x1="358.5" y1="177.5" x2="358.5" y2="207.5" stroke="#4a4a4a" stroke-width="0.9"/>
<rect x="357.30" y="184.0" width="2.4" height="22.3" fill="#0c0c0c"/>
<line x1="361.0" y1="162.4" x2="361.0" y2="202.8" stroke="#4a4a4a" stroke-width="0.9"/>
<rect x="359.80" y="180.4" width="2.4" height="15.1" fill="#5c0f0f"/>
<line x1="363.6" y1="182.0" x2="363.6" y2="203.0" stroke="#4a4a4a" stroke-width="0.9"/>
<rect x="362.40" y="184.0" width="2.4" height="12.3" fill="#5c0f0f"/>
<line x1="365.8" y1="188.0" x2="365.8" y2="204.0" stroke="#4a4a4a" stroke-width="0.9"/>
<rect x="364.60" y="190.7" width="2.4" height="11.3" fill="#5c0f0f"/>
<line x1="368.5" y1="193.0" x2="368.5" y2="209.0" stroke="#4a4a4a" stroke-width="0.9"/>
<rect x="367.30" y="195.0" width="2.4" height="12.6" fill="#5c0f0f"/>
<line x1="371.4" y1="194.0" x2="371.4" y2="211.0" stroke="#4a4a4a" stroke-width="0.9"/>
<rect x="370.20" y="202.0" width="2.4" height="7.0" fill="#0c0c0c"/>
<line x1="373.6" y1="203.0" x2="373.6" y2="215.5" stroke="#4a4a4a" stroke-width="0.9"/>
<rect x="372.40" y="205.3" width="2.4" height="6.7" fill="#5c0f0f"/>
<line x1="376.6" y1="196.3" x2="376.6" y2="210.0" stroke="#4a4a4a" stroke-width="0.9"/>
<rect x="375.40" y="203.0" width="2.4" height="4.6" fill="#0c0c0c"/>
<line x1="379.3" y1="200.0" x2="379.3" y2="209.0" stroke="#4a4a4a" stroke-width="0.9"/>
<rect x="378.10" y="203.0" width="2.4" height="3.5" fill="#0c0c0c"/>
<line x1="382.0" y1="201.0" x2="382.0" y2="211.0" stroke="#4a4a4a" stroke-width="0.9"/>
<rect x="380.80" y="203.0" width="2.4" height="4.6" fill="#0c0c0c"/>
<line x1="383.9" y1="198.0" x2="383.9" y2="208.0" stroke="#4a4a4a" stroke-width="0.9"/>
<rect x="382.70" y="199.7" width="2.4" height="6.7" fill="#0c0c0c"/>
<line x1="386.5" y1="181.7" x2="386.5" y2="201.0" stroke="#4a4a4a" stroke-width="0.9"/>
<rect x="385.30" y="184.0" width="2.4" height="15.7" fill="#0c0c0c"/>
<line x1="388.7" y1="185.0" x2="388.7" y2="195.0" stroke="#4a4a4a" stroke-width="0.9"/>
<rect x="387.50" y="187.3" width="2.4" height="5.7" fill="#5c0f0f"/>
<line x1="391.7" y1="175.0" x2="391.7" y2="193.0" stroke="#4a4a4a" stroke-width="0.9"/>
<rect x="390.50" y="177.0" width="2.4" height="14.8" fill="#0c0c0c"/>
<line x1="394.4" y1="178.0" x2="394.4" y2="198.0" stroke="#4a4a4a" stroke-width="0.9"/>
<rect x="393.20" y="180.5" width="2.4" height="15.8" fill="#5c0f0f"/>
<line x1="396.8" y1="190.0" x2="396.8" y2="199.5" stroke="#4a4a4a" stroke-width="0.9"/>
<rect x="395.60" y="191.8" width="2.4" height="5.7" fill="#5c0f0f"/>
<line x1="399.5" y1="192.0" x2="399.5" y2="204.0" stroke="#4a4a4a" stroke-width="0.9"/>
<rect x="398.30" y="194.0" width="2.4" height="8.0" fill="#5c0f0f"/>
<line x1="401.8" y1="182.0" x2="401.8" y2="198.0" stroke="#4a4a4a" stroke-width="0.9"/>
<rect x="400.60" y="184.0" width="2.4" height="12.3" fill="#0c0c0c"/>
<line x1="404.7" y1="170.4" x2="404.7" y2="186.0" stroke="#4a4a4a" stroke-width="0.9"/>
<rect x="403.50" y="172.7" width="2.4" height="11.3" fill="#0c0c0c"/>
<line x1="407.4" y1="172.0" x2="407.4" y2="183.0" stroke="#4a4a4a" stroke-width="0.9"/>
<rect x="406.20" y="173.8" width="2.4" height="6.7" fill="#5c0f0f"/>
<line x1="409.5" y1="166.0" x2="409.5" y2="183.5" stroke="#4a4a4a" stroke-width="0.9"/>
<rect x="408.30" y="173.8" width="2.4" height="7.9" fill="#0c0c0c"/>
<line x1="412.0" y1="175.0" x2="412.0" y2="184.0" stroke="#4a4a4a" stroke-width="0.9"/>
<rect x="410.80" y="177.0" width="2.4" height="4.7" fill="#5c0f0f"/>
<line x1="414.2" y1="170.4" x2="414.2" y2="181.5" stroke="#4a4a4a" stroke-width="0.9"/>
<rect x="413.00" y="173.8" width="2.4" height="5.6" fill="#0c0c0c"/>
<line x1="416.9" y1="173.0" x2="416.9" y2="189.5" stroke="#4a4a4a" stroke-width="0.9"/>
<rect x="415.70" y="175.0" width="2.4" height="11.2" fill="#5c0f0f"/>
<line x1="419.4" y1="177.5" x2="419.4" y2="188.0" stroke="#4a4a4a" stroke-width="0.9"/>
<rect x="418.20" y="179.4" width="2.4" height="6.8" fill="#0c0c0c"/>
<line x1="422.0" y1="173.8" x2="422.0" y2="184.0" stroke="#4a4a4a" stroke-width="0.9"/>
<rect x="420.80" y="178.3" width="2.4" height="3.4" fill="#0c0c0c"/>
<line x1="424.8" y1="176.0" x2="424.8" y2="184.0" stroke="#4a4a4a" stroke-width="0.9"/>
<rect x="423.60" y="178.3" width="2.4" height="3.4" fill="#0c0c0c"/>
<line x1="427.7" y1="175.0" x2="427.7" y2="184.0" stroke="#4a4a4a" stroke-width="0.9"/>
<rect x="426.50" y="177.0" width="2.4" height="4.7" fill="#5c0f0f"/>
<line x1="430.6" y1="169.3" x2="430.6" y2="183.5" stroke="#4a4a4a" stroke-width="0.9"/>
<rect x="429.40" y="172.7" width="2.4" height="9.0" fill="#0c0c0c"/>
<line x1="433.8" y1="166.0" x2="433.8" y2="179.0" stroke="#4a4a4a" stroke-width="0.9"/>
<rect x="432.60" y="168.0" width="2.4" height="9.0" fill="#0c0c0c"/>
<line x1="436.7" y1="122.0" x2="436.7" y2="171.0" stroke="#4a4a4a" stroke-width="0.9"/>
<rect x="435.50" y="138.2" width="2.4" height="31.1" fill="#0c0c0c"/>
<line x1="439.0" y1="116.6" x2="439.0" y2="141.0" stroke="#4a4a4a" stroke-width="0.9"/>
<rect x="437.80" y="132.6" width="2.4" height="7.1" fill="#5c0f0f"/>
<line x1="441.2" y1="128.0" x2="441.2" y2="142.0" stroke="#4a4a4a" stroke-width="0.9"/>
<rect x="440.00" y="133.0" width="2.4" height="6.7" fill="#5c0f0f"/>
<line x1="444.6" y1="116.6" x2="444.6" y2="137.0" stroke="#4a4a4a" stroke-width="0.9"/>
<rect x="443.40" y="127.0" width="2.4" height="8.8" fill="#0c0c0c"/>
<line x1="447.0" y1="119.0" x2="447.0" y2="132.0" stroke="#4a4a4a" stroke-width="0.9"/>
<rect x="445.80" y="122.2" width="2.4" height="8.0" fill="#0c0c0c"/>
<line x1="449.0" y1="116.0" x2="449.0" y2="126.0" stroke="#4a4a4a" stroke-width="0.9"/>
<rect x="447.80" y="119.0" width="2.4" height="4.8" fill="#0c0c0c"/>
<line x1="451.7" y1="111.8" x2="451.7" y2="123.0" stroke="#4a4a4a" stroke-width="0.9"/>
<rect x="450.50" y="114.2" width="2.4" height="7.2" fill="#0c0c0c"/>
<line x1="453.8" y1="102.0" x2="453.8" y2="117.5" stroke="#4a4a4a" stroke-width="0.9"/>
<rect x="452.60" y="104.7" width="2.4" height="11.1" fill="#0c0c0c"/>
<line x1="456.5" y1="101.5" x2="456.5" y2="110.0" stroke="#4a4a4a" stroke-width="0.9"/>
<rect x="455.30" y="103.8" width="2.4" height="2.7" fill="#0c0c0c"/>
<line x1="458.6" y1="101.0" x2="458.6" y2="127.0" stroke="#4a4a4a" stroke-width="0.9"/>
<rect x="457.40" y="103.0" width="2.4" height="4.0" fill="#5c0f0f"/>
<line x1="461.8" y1="90.0" x2="461.8" y2="109.5" stroke="#4a4a4a" stroke-width="0.9"/>
<rect x="460.60" y="91.9" width="2.4" height="15.9" fill="#5c0f0f"/>
<line x1="464.3" y1="90.5" x2="464.3" y2="139.7" stroke="#4a4a4a" stroke-width="0.9"/>
<rect x="463.10" y="92.5" width="2.4" height="15.3" fill="#5c0f0f"/>
<line x1="467.7" y1="105.5" x2="467.7" y2="123.8" stroke="#4a4a4a" stroke-width="0.9"/>
<rect x="466.50" y="107.8" width="2.4" height="9.6" fill="#5c0f0f"/>
<line x1="470.0" y1="110.0" x2="470.0" y2="119.0" stroke="#4a4a4a" stroke-width="0.9"/>
<rect x="468.80" y="112.6" width="2.4" height="4.0" fill="#5c0f0f"/>
<line x1="472.0" y1="91.1" x2="472.0" y2="121.5" stroke="#4a4a4a" stroke-width="0.9"/>
<rect x="470.80" y="105.5" width="2.4" height="14.3" fill="#0c0c0c"/>
<line x1="474.9" y1="91.1" x2="474.9" y2="113.0" stroke="#4a4a4a" stroke-width="0.9"/>
<rect x="473.70" y="98.3" width="2.4" height="12.7" fill="#0c0c0c"/>
<line x1="477.3" y1="55.2" x2="477.3" y2="99.0" stroke="#4a4a4a" stroke-width="0.9"/>
<rect x="476.10" y="80.0" width="2.4" height="16.7" fill="#0c0c0c"/>
<line x1="480.5" y1="48.4" x2="480.5" y2="86.0" stroke="#4a4a4a" stroke-width="0.9"/>
<rect x="479.30" y="68.0" width="2.4" height="12.0" fill="#0c0c0c"/>
<line x1="482.8" y1="65.3" x2="482.8" y2="80.0" stroke="#4a4a4a" stroke-width="0.9"/>
<rect x="481.60" y="71.0" width="2.4" height="6.6" fill="#0c0c0c"/>
<line x1="485.2" y1="64.0" x2="485.2" y2="78.0" stroke="#4a4a4a" stroke-width="0.9"/>
<rect x="484.00" y="67.0" width="2.4" height="9.0" fill="#0c0c0c"/>
<line x1="487.4" y1="36.0" x2="487.4" y2="76.0" stroke="#4a4a4a" stroke-width="0.9"/>
<rect x="486.20" y="38.3" width="2.4" height="36.0" fill="#0c0c0c"/>
<line x1="489.7" y1="9.0" x2="489.7" y2="42.8" stroke="#4a4a4a" stroke-width="0.9"/>
<rect x="488.50" y="35.0" width="2.4" height="4.4" fill="#5c0f0f"/>
<line x1="492.4" y1="23.6" x2="492.4" y2="44.0" stroke="#4a4a4a" stroke-width="0.9"/>
<rect x="491.20" y="37.0" width="2.4" height="4.7" fill="#5c0f0f"/>
<line x1="494.6" y1="30.4" x2="494.6" y2="40.0" stroke="#4a4a4a" stroke-width="0.9"/>
<rect x="493.40" y="33.8" width="2.4" height="3.4" fill="#0c0c0c"/>
<line x1="497.4" y1="32.0" x2="497.4" y2="75.0" stroke="#4a4a4a" stroke-width="0.9"/>
<rect x="495.95" y="33.8" width="2.9" height="39.4" fill="#5c0f0f"/>
<line x1="500.3" y1="64.0" x2="500.3" y2="130.0" stroke="#4a4a4a" stroke-width="0.9"/>
<rect x="498.75" y="66.4" width="3.1" height="61.6" fill="#5c0f0f"/>
<line x1="502.8" y1="124.0" x2="502.8" y2="192.0" stroke="#4a4a4a" stroke-width="0.9"/>
<rect x="501.30" y="126.0" width="3.0" height="64.0" fill="#5c0f0f"/>
<line x1="506.0" y1="164.8" x2="506.0" y2="228.2" stroke="#4a4a4a" stroke-width="0.9"/>
<rect x="504.80" y="184.5" width="2.4" height="18.3" fill="#5c0f0f"/>
<line x1="508.5" y1="146.0" x2="508.5" y2="186.0" stroke="#4a4a4a" stroke-width="0.9"/>
<rect x="507.30" y="148.0" width="2.4" height="36.5" fill="#0c0c0c"/>
<line x1="511.0" y1="141.0" x2="511.0" y2="155.0" stroke="#4a4a4a" stroke-width="0.9"/>
<rect x="509.80" y="148.0" width="2.4" height="4.0" fill="#0c0c0c"/>
<line x1="513.2" y1="150.0" x2="513.2" y2="168.0" stroke="#4a4a4a" stroke-width="0.9"/>
<rect x="512.00" y="152.0" width="2.4" height="14.2" fill="#5c0f0f"/>
<line x1="516.0" y1="150.0" x2="516.0" y2="169.0" stroke="#4a4a4a" stroke-width="0.9"/>
<rect x="514.80" y="152.0" width="2.4" height="15.0" fill="#5c0f0f"/>
<line x1="518.9" y1="151.0" x2="518.9" y2="168.5" stroke="#4a4a4a" stroke-width="0.9"/>
<rect x="517.70" y="153.5" width="2.4" height="12.7" fill="#0c0c0c"/>
<line x1="521.7" y1="148.0" x2="521.7" y2="169.0" stroke="#4a4a4a" stroke-width="0.9"/>
<rect x="520.50" y="150.7" width="2.4" height="16.9" fill="#0c0c0c"/>
<line x1="524.5" y1="147.0" x2="524.5" y2="158.0" stroke="#4a4a4a" stroke-width="0.9"/>
<rect x="523.30" y="150.7" width="2.4" height="4.3" fill="#0c0c0c"/>
<line x1="527.9" y1="119.7" x2="527.9" y2="152.0" stroke="#4a4a4a" stroke-width="0.9"/>
<rect x="526.70" y="126.8" width="2.4" height="23.9" fill="#0c0c0c"/>
<line x1="530.3" y1="124.0" x2="530.3" y2="139.0" stroke="#4a4a4a" stroke-width="0.9"/>
<rect x="529.10" y="126.8" width="2.4" height="9.8" fill="#5c0f0f"/>
<line x1="533.0" y1="133.0" x2="533.0" y2="151.0" stroke="#4a4a4a" stroke-width="0.9"/>
<rect x="531.80" y="135.2" width="2.4" height="14.1" fill="#5c0f0f"/>
<line x1="535.8" y1="135.0" x2="535.8" y2="153.5" stroke="#4a4a4a" stroke-width="0.9"/>
<rect x="534.60" y="136.6" width="2.4" height="15.4" fill="#5c0f0f"/>
</g>
</g>
<g id="rsi" filter="url(#b)">
<rect x="0" y="318.3" width="698.0" height="74.4" fill="#e8d5fd"/>
<line x1="0" y1="318.3" x2="698.0" y2="318.3" stroke="#b37fdc" stroke-width="0.8" stroke-dasharray="4,1.3"/>
<line x1="0" y1="392.7" x2="698.0" y2="392.7" stroke="#b37fdc" stroke-width="0.8" stroke-dasharray="4,1.3"/>
<polyline points="0.0,355.2 2.5,345.2 5.0,343.9 8.3,345.2 11.3,336.4 13.8,352.7 16.3,352.2 18.8,352.7 22.1,340.1 24.6,346.4 27.1,343.9 29.6,343.9 32.1,348.9 34.6,360.2 37.1,363.9 39.6,367.2 42.1,356.4 44.6,353.2 47.1,352.2 49.4,363.9 52.1,357.7 54.6,362.7 57.1,362.2 59.6,363.9 62.7,361.4 66.4,356.9 68.9,358.9 72.2,358.2 75.2,359.4 77.2,356.4 80.2,345.2 83.5,348.2 86.5,352.7 89.7,348.2 92.7,348.9 95.2,358.9 97.7,359.4 99.0,380.2 100.3,397.8 102.8,386.5 105.3,387.8 107.3,386.5 110.3,389.8 112.8,354.7 114.8,361.4 117.3,372.2 120.3,367.7 122.8,364.7 125.3,366.5 127.8,365.2 129.8,355.7 132.8,367.7 135.3,366.5 139.1,368.2 142.9,366.5 147.9,372.7 151.6,368.2 154.9,369.0 157.9,374.0 160.4,374.7 162.9,376.5 165.4,374.0 167.9,374.0 170.4,367.7 172.9,367.7 175.4,358.9 177.9,359.7 180.0,360.2 181.3,359.7 183.8,348.9 186.3,347.7 188.3,343.1 191.3,326.4 193.8,324.6 196.3,322.6 198.8,327.1 202.1,335.1 203.8,337.6 205.8,331.4 208.1,333.9 210.1,333.1 212.1,336.4 214.1,338.1 216.3,335.1 218.8,347.7 221.4,355.2 223.9,365.2 226.4,370.7 228.9,366.5 231.9,358.4 233.9,366.5 236.4,356.4 238.9,357.7 241.9,344.6 244.4,353.9 247.7,353.9 250.9,353.4 253.9,356.4 256.4,358.2 259.7,372.2 262.2,372.0 264.7,374.0 266.5,370.2 269.0,356.4 271.5,355.7 274.0,357.7 276.5,360.2 279.5,363.2 282.0,343.9 284.5,365.2 287.3,368.2 289.8,367.7 292.3,365.2 294.8,363.2 297.3,365.7 299.8,365.7 302.8,376.5 304.8,377.2 307.1,382.2 309.6,375.2 312.3,387.0 314.8,377.7 317.3,379.0 319.8,382.2 322.9,374.0 324.9,374.0 327.4,360.2 329.9,351.4 332.4,349.7 335.4,347.2 337.4,359.7 339.9,349.7 342.4,346.4 345.4,343.1 347.9,357.7 350.0,355.3 352.2,325.9 354.1,306.8 356.0,298.6 358.2,294.5 360.1,295.1 361.7,305.4 363.6,315.0 365.5,319.1 367.7,333.5 370.4,331.3 372.6,340.9 375.3,336.8 378.1,332.7 380.8,336.8 382.7,334.0 385.4,321.0 388.1,328.6 390.3,320.4 393.1,342.8 395.0,340.9 398.5,346.3 401.2,335.4 404.0,333.5 406.7,330.8 408.6,331.9 411.3,335.4 413.5,331.3 416.2,342.8 418.9,339.5 421.4,336.8 423.6,340.9 426.3,338.7 428.5,338.7 430.9,332.7 433.7,330.8 435.8,311.4 438.6,310.9 440.7,313.1 443.5,306.8 446.2,304.1 448.9,303.0 451.4,301.9 453.5,297.3 456.3,297.3 459.0,300.5 461.2,295.9 463.9,320.4 467.2,330.0 469.3,328.6 472.1,321.8 474.0,317.7 476.7,308.2 479.4,304.6 481.6,308.7 484.1,308.2 486.2,297.3 488.4,296.7 491.1,301.3 493.9,300.5 495.8,325.9 498.5,358.6 501.2,380.4 502.6,391.3 504.2,394.0 505.9,377.6 507.5,367.6 509.4,369.5 511.6,372.7 514.3,368.1 516.8,371.6 519.5,370.0 522.2,364.8 524.9,364.0 527.1,351.2 529.3,362.1 531.7,358.0 534.5,363.5" fill="none" stroke="#9208c0" stroke-width="1.25" stroke-linejoin="round"/>
</g>
<g stroke="#ecfbe8" stroke-width="1.1" fill="none">
<circle cx="319" cy="497.5" r="9.3"/>
<path d="M320.5,493.5l-3.5,4l3.5,4"/>
<circle cx="344" cy="497.5" r="9.3"/>
<path d="M340.5,497.5h7"/>
<circle cx="369" cy="497.5" r="9.3"/>
<path d="M372,495a4,4 0 1 0 1,3.5"/>
<circle cx="394.4" cy="497.5" r="9.3"/>
<path d="M390.9,497.5h7M394.4,494v7"/>
<circle cx="419.5" cy="497.5" r="9.3"/>
<path d="M418.0,493.5l3.5,4l-3.5,4"/>
</g>
<g id="cci" filter="url(#t)">
<rect x="0" y="458" width="698.0" height="23.2" fill="#d9c589"/>
<line x1="0" y1="458" x2="698.0" y2="458" stroke="#bfa8bc" stroke-width="0.8" stroke-dasharray="4,1.3"/>
<line x1="0" y1="481.2" x2="698.0" y2="481.2" stroke="#bfa8bc" stroke-width="0.8" stroke-dasharray="4,1.3"/>
<path d="M0.8,469.6V464.7M3.3,469.6V462.5M5.7,469.6V462.2M8.2,469.6V462.2M10.7,469.6V458.9M13.2,469.6V464.2M15.6,469.6V467.0M18.1,469.6V467.2M20.6,469.6V463.5M23.0,469.6V461.1M25.5,469.6V462.4M28.0,469.6V462.0M30.4,469.6V462.7M32.9,469.6V466.3M35.4,469.6V470.5M37.8,469.6V472.9M40.3,469.6V473.0M42.8,469.6V467.5M45.3,469.6V464.3M47.7,469.6V466.9M50.2,469.6V471.2M52.7,469.6V468.5M55.1,469.6V471.4M57.6,469.6V471.7M60.1,469.6V472.5M62.5,469.6V471.5M70.0,469.6V470.4M72.4,469.6V470.9M74.9,469.6V471.3M79.8,469.6V465.5M82.3,469.6V465.8M84.8,469.6V467.5M87.2,469.6V468.5M89.7,469.6V467.2M92.2,469.6V467.2M94.7,469.6V471.5M97.1,469.6V474.3M99.6,469.6V514.0M102.1,469.6V505.7M104.5,469.6V501.9M107.0,469.6V500.9M109.5,469.6V500.4M111.9,469.6V481.2M114.4,469.6V485.1M116.9,469.6V492.1M119.4,469.6V489.4M121.8,469.6V486.2M124.3,469.6V485.2M126.8,469.6V484.5M129.2,469.6V481.8M131.7,469.6V483.5M134.2,469.6V485.3M136.6,469.6V484.7M139.1,469.6V484.7M141.6,469.6V483.7M144.1,469.6V483.4M146.5,469.6V483.8M149.0,469.6V483.3M151.5,469.6V481.6M153.9,469.6V481.0M156.4,469.6V481.1M158.9,469.6V482.1M161.3,469.6V482.2M163.8,469.6V481.7M166.3,469.6V480.4M168.8,469.6V479.9M171.2,469.6V479.3M173.7,469.6V478.0M176.2,469.6V477.0M178.6,469.6V475.8M181.1,469.6V473.8M183.6,469.6V472.4M186.0,469.6V471.4M191.0,469.6V464.6M193.5,469.6V462.9M195.9,469.6V462.0M198.4,469.6V462.6M200.9,469.6V463.5M203.3,469.6V464.5M205.8,469.6V461.9M208.3,469.6V461.8M210.7,469.6V460.6M213.2,469.6V460.3M215.7,469.6V459.4M218.2,469.6V460.8M220.6,469.6V463.2M223.1,469.6V466.5M230.5,469.6V467.2M233.0,469.6V468.1M235.4,469.6V467.8M237.9,469.6V466.9M240.4,469.6V463.4M242.9,469.6V461.6M245.3,469.6V464.8M247.8,469.6V465.2M250.3,469.6V465.2M252.7,469.6V465.5M255.2,469.6V466.5M260.1,469.6V471.6M262.6,469.6V472.9M265.1,469.6V473.6M267.6,469.6V470.9M270.0,469.6V468.1M272.5,469.6V467.9M275.0,469.6V468.7M282.4,469.6V464.6M284.9,469.6V473.1M287.3,469.6V475.9M289.8,469.6V475.9M292.3,469.6V475.9M294.7,469.6V476.4M297.2,469.6V477.6M299.7,469.6V479.6M302.1,469.6V483.1M304.6,469.6V484.0M307.1,469.6V487.2M309.6,469.6V485.2M312.0,469.6V490.8M314.5,469.6V488.2M317.0,469.6V488.1M319.4,469.6V487.8M321.9,469.6V485.7M324.4,469.6V484.7M326.8,469.6V480.2M329.3,469.6V475.7M331.8,469.6V473.6M334.3,469.6V472.1M336.7,469.6V475.6M339.2,469.6V473.2M344.1,469.6V467.5M346.6,469.6V470.6M349.1,469.6V474.3M351.5,469.6V452.9M354.0,469.6V427.2M356.5,469.6V414.7M359.0,469.6V413.8M361.4,469.6V425.6M363.9,469.6V436.8M366.4,469.6V443.8M368.8,469.6V450.2M371.3,469.6V452.2M373.8,469.6V454.7M376.2,469.6V452.7M378.7,469.6V452.7M381.2,469.6V455.6M383.7,469.6V452.6M386.1,469.6V450.1M388.6,469.6V452.2M391.1,469.6V451.4M393.5,469.6V457.7M396.0,469.6V458.1M398.5,469.6V460.5M400.9,469.6V456.3M403.4,469.6V455.4M405.9,469.6V455.1M408.4,469.6V456.2M410.8,469.6V457.1M413.3,469.6V456.5M415.8,469.6V458.9M418.2,469.6V458.8M420.7,469.6V458.6M423.2,469.6V459.0M425.6,469.6V458.7M428.1,469.6V459.0M430.6,469.6V458.7M433.1,469.6V458.0M435.5,469.6V451.0M438.0,469.6V449.9M440.5,469.6V450.9M442.9,469.6V449.4M445.4,469.6V448.6M447.9,469.6V448.3M450.3,469.6V448.2M452.8,469.6V446.9M455.3,469.6V446.7M457.8,469.6V448.0M460.2,469.6V447.2M462.7,469.6V449.1M465.2,469.6V453.1M467.6,469.6V455.3M470.1,469.6V454.9M472.6,469.6V453.8M475.0,469.6V452.1M477.5,469.6V450.2M480.0,469.6V450.4M482.5,469.6V451.8M484.9,469.6V450.5M487.4,469.6V448.8M489.9,469.6V449.8M492.3,469.6V450.4M494.8,469.6V452.3M497.3,469.6V459.7M499.7,469.6V468.4M502.2,469.6V476.6M504.7,469.6V479.2M507.2,469.6V471.7M509.6,469.6V472.4M512.1,469.6V473.6M514.6,469.6V471.8M517.0,469.6V474.8M519.5,469.6V474.1M522.0,469.6V472.4M524.4,469.6V472.7M526.9,469.6V467.3M529.4,469.6V472.2M531.9,469.6V470.9M534.3,469.6V472.9" stroke="#0808e0" stroke-width="1.3" fill="none"/>
<polyline points="0.0,465.7 2.5,462.7 5.0,462.2 8.3,462.2 11.3,458.1 13.8,466.4 16.3,467.2 18.8,467.2 22.1,460.2 24.6,462.7 27.1,461.9 30.1,462.2 32.6,465.7 35.1,470.2 37.6,472.7 39.6,474.7 42.6,467.7 45.6,463.9 47.6,466.4 49.4,472.7 52.1,467.7 54.6,471.4 57.1,471.4 59.6,472.7 62.7,471.4 66.4,468.9 68.9,470.2 72.2,470.9 75.2,471.4 77.7,470.2 80.2,464.7 83.5,466.4 86.5,468.9 89.7,467.2 92.7,467.2 95.2,472.7 97.2,474.4 98.5,500.3 99.7,515.3 102.8,502.8 105.3,501.5 107.3,500.8 110.3,500.3 112.3,477.2 114.8,486.5 117.3,493.2 120.3,487.7 122.8,485.2 125.3,485.2 127.8,484.0 130.3,480.2 132.8,486.0 135.3,484.7 139.1,484.7 142.9,483.2 147.9,484.0 151.6,481.5 155.4,480.7 159.1,482.2 162.9,482.2 166.7,480.2 170.4,479.7 174.2,477.7 177.9,476.4 180.0,474.7 182.5,472.7 185.0,471.9 188.3,470.2 191.3,463.9 193.8,462.7 196.3,461.9 198.8,462.7 202.1,463.9 203.8,464.7 205.8,461.9 208.1,461.9 210.1,460.7 214.1,460.2 216.3,459.1 218.8,461.4 221.4,463.9 223.9,467.7 226.4,470.9 228.9,468.9 231.9,465.7 233.9,470.2 236.4,466.4 238.9,467.2 241.9,459.6 244.4,464.7 247.7,465.2 250.9,465.2 253.9,465.7 256.4,467.2 259.7,471.4 262.2,472.7 264.7,473.9 266.5,472.7 269.0,468.4 271.5,467.7 274.0,468.2 276.5,469.4 279.5,470.2 282.0,463.2 284.5,472.7 287.3,475.9 289.8,475.9 292.3,475.9 294.8,476.4 297.3,477.7 299.8,479.7 302.8,484.0 304.8,484.0 307.1,487.2 309.6,485.2 312.3,491.5 314.8,487.7 317.3,488.2 319.8,487.7 322.9,484.7 324.9,484.7 327.4,478.9 329.9,474.7 332.4,473.2 335.4,471.4 337.4,477.7 339.9,471.4 342.4,468.9 345.4,466.4 347.9,475.2 350.0,473.6 351.4,454.5 353.3,432.7 354.9,420.4 356.8,413.6 358.2,410.4 360.1,419.1 362.3,430.0 364.2,438.1 366.3,443.6 368.3,450.4 370.4,449.6 372.6,455.9 375.3,453.1 378.1,451.8 380.8,455.9 382.7,454.5 385.4,449.0 388.1,453.1 390.3,449.0 393.1,457.8 395.0,457.2 398.5,460.5 401.2,455.9 404.0,455.3 406.7,455.0 408.6,456.4 411.3,457.2 413.5,456.4 416.2,459.4 418.9,458.6 421.4,458.6 423.6,459.1 426.3,458.6 428.5,459.1 430.9,458.6 433.7,457.8 435.8,449.9 438.6,449.9 440.7,451.0 443.5,449.0 446.2,448.5 448.9,448.2 451.4,448.2 453.5,446.3 456.3,446.9 459.0,449.0 461.2,445.8 463.9,451.8 467.2,455.3 469.3,455.3 472.1,454.0 474.0,453.1 476.7,450.4 479.4,449.9 481.6,451.8 484.1,451.8 486.2,448.5 488.4,449.0 491.1,450.4 493.9,450.4 495.8,454.5 498.5,464.0 501.2,473.6 502.6,477.7 504.2,480.9 505.9,474.9 507.5,470.8 509.4,472.2 511.6,474.1 514.3,471.4 516.8,474.9 519.5,474.1 522.2,472.2 524.9,472.8 527.1,466.8 529.3,472.2 531.7,470.8 534.5,473.0 535.3,474.1" fill="none" stroke="#0808f0" stroke-width="2.1" stroke-linejoin="round"/>
</g>
<g filter="url(#t)">
<g stroke="#1c1c1c">
<line x1="0" y1="288.6" x2="734" y2="288.6" stroke-width="1.4" stroke="#4c4c4c"/>
<line x1="0" y1="404.6" x2="734" y2="404.6" stroke-width="1.4" stroke="#4c4c4c"/>
<line x1="0" y1="518.9" x2="698.0" y2="518.9" stroke-width="1.2"/>
<line x1="698.0" y1="0" x2="698.0" y2="519.5" stroke-width="1.3"/>
<line x1="698.0" y1="29.3" x2="701.2" y2="29.3" stroke-width="1"/>
<line x1="698.0" y1="80.7" x2="701.2" y2="80.7" stroke-width="1"/>
<line x1="698.0" y1="183.4" x2="701.2" y2="183.4" stroke-width="1"/>
<line x1="698.0" y1="234.8" x2="701.2" y2="234.8" stroke-width="1"/>
<line x1="698.0" y1="285.6" x2="701.2" y2="285.6" stroke-width="1"/>
<line x1="698.0" y1="299.5" x2="701.2" y2="299.5" stroke-width="1"/>
<line x1="698.0" y1="336.8" x2="701.2" y2="336.8" stroke-width="1"/>
<line x1="698.0" y1="374.1" x2="701.2" y2="374.1" stroke-width="1"/>
<line x1="698.0" y1="424.2" x2="701.2" y2="424.2" stroke-width="1"/>
<line x1="698.0" y1="446.7" x2="701.2" y2="446.7" stroke-width="1"/>
<line x1="698.0" y1="470" x2="701.2" y2="470" stroke-width="1"/>
<line x1="698.0" y1="493" x2="701.2" y2="493" stroke-width="1"/>
<line x1="698.0" y1="516" x2="701.2" y2="516" stroke-width="1"/>
<line x1="65.3" y1="518.9" x2="65.3" y2="522" stroke-width="1"/>
<line x1="143.8" y1="518.9" x2="143.8" y2="522" stroke-width="1"/>
<line x1="216.6" y1="518.9" x2="216.6" y2="522" stroke-width="1"/>
<line x1="295.3" y1="518.9" x2="295.3" y2="522" stroke-width="1"/>
<line x1="371.3" y1="518.9" x2="371.3" y2="522" stroke-width="1"/>
<line x1="449" y1="518.9" x2="449" y2="522" stroke-width="1"/>
<line x1="525.7" y1="518.9" x2="525.7" y2="522" stroke-width="1"/>
<line x1="603.5" y1="518.9" x2="603.5" y2="522" stroke-width="1"/>
<line x1="682.6" y1="518.9" x2="682.6" y2="522" stroke-width="1"/>
</g>
<g font-size="8.6" fill="#000" stroke="#000" stroke-width="0.2">
<text x="703" y="32.4" textLength="24" lengthAdjust="spacingAndGlyphs">5.0000</text>
<text x="703" y="83.8" textLength="24" lengthAdjust="spacingAndGlyphs">4.5000</text>
<text x="703" y="186.5" textLength="24" lengthAdjust="spacingAndGlyphs">3.5000</text>
<text x="703" y="237.9" textLength="24" lengthAdjust="spacingAndGlyphs">3.0000</text>
<text x="703" y="288.3" textLength="24" lengthAdjust="spacingAndGlyphs">2.5000</text>
<text x="703" y="302.6" textLength="28.5" lengthAdjust="spacingAndGlyphs">80.0000</text>
<text x="703" y="339.9" textLength="28.5" lengthAdjust="spacingAndGlyphs">60.0000</text>
<text x="703" y="377.2" textLength="28.5" lengthAdjust="spacingAndGlyphs">40.0000</text>
<text x="703" y="427.3" textLength="33" lengthAdjust="spacingAndGlyphs">400.0000</text>
<text x="703" y="449.8" textLength="33" lengthAdjust="spacingAndGlyphs">200.0000</text>
<text x="703" y="473.1" textLength="24" lengthAdjust="spacingAndGlyphs">0.0000</text>
<text x="703" y="496.1" textLength="35.5" lengthAdjust="spacingAndGlyphs">-200.0000</text>
<text x="703" y="519.1" textLength="35.5" lengthAdjust="spacingAndGlyphs">-400.0000</text>
</g>
<rect x="697.4" y="121.8" width="32.6" height="12.6" fill="#0a0aff"/>
<rect x="697.4" y="134.4" width="32.6" height="12.3" fill="#ff0a0a"/>
<rect x="697.4" y="146.7" width="32.6" height="11.4" fill="#cc0000"/>
<g stroke="#ffffff" stroke-width="1">
<line x1="698.0" y1="128.2" x2="700.5" y2="128.2"/>
<line x1="698.0" y1="140.4" x2="700.5" y2="140.4"/>
<line x1="698.0" y1="152.4" x2="700.5" y2="152.4"/>
</g>
<g font-size="8.3" fill="#ffffff">
<text x="702.8" y="131.3" textLength="24" lengthAdjust="spacingAndGlyphs">4.0068</text>
<text x="702.8" y="143.5" textLength="24" lengthAdjust="spacingAndGlyphs">3.9084</text>
<text x="702.8" y="155.5" textLength="24" lengthAdjust="spacingAndGlyphs">3.8000</text>
</g>
<g font-size="8.7" fill="#000" stroke="#000" stroke-width="0.2" text-anchor="middle">
<text x="65.2" y="530.2" font-weight="bold" textLength="17.7" lengthAdjust="spacingAndGlyphs">2016</text>
<text x="144.2" y="530.2" textLength="13.9" lengthAdjust="spacingAndGlyphs">Feb</text>
<text x="217.1" y="530.2" textLength="13.6" lengthAdjust="spacingAndGlyphs">Mar</text>
<text x="295.3" y="530.2" textLength="13.2" lengthAdjust="spacingAndGlyphs">Apr</text>
<text x="371.3" y="530.2" textLength="15" lengthAdjust="spacingAndGlyphs">May</text>
<text x="449" y="530.2" textLength="12.6" lengthAdjust="spacingAndGlyphs">Jun</text>
<text x="525.7" y="530.2" textLength="9.8" lengthAdjust="spacingAndGlyphs">Jul</text>
<text x="603.5" y="530.2" textLength="13.4" lengthAdjust="spacingAndGlyphs">Aug</text>
<text x="682.6" y="530.2" textLength="14" lengthAdjust="spacingAndGlyphs">Sep</text>
</g>
<rect x="1.3" y="2.8" width="9" height="9" fill="#fdfffb" stroke="#222" stroke-width="1"/>
<line x1="3.3" y1="7.3" x2="8.3" y2="7.3" stroke="#222" stroke-width="1.2"/>
<text x="15.5" y="11.3" font-size="12.6" fill="#000" stroke="#000" stroke-width="0.2" textLength="135.5" lengthAdjust="spacingAndGlyphs">Litecoin / Euro, D, BTCE</text>
<path d="M154.7,5.9h5.2l-2.6,3z" fill="#cdb3e6"/>
<rect x="167.3" y="2.3" width="10.3" height="9.6" fill="#cbd1ca"/>
<ellipse cx="172.5" cy="7.1" rx="3.7" ry="2.6" fill="none" stroke="#f6faf4" stroke-width="1.3"/><circle cx="172.5" cy="7.1" r="1.2" fill="#f4f8f2"/>
<rect x="180.6" y="2.3" width="10.3" height="9.6" fill="#cbd1ca"/>
<path d="M188.02,7.10L189.87,7.10M187.35,8.70L188.66,10.01M185.75,9.37L185.75,11.22M184.15,8.70L182.84,10.01M183.48,7.10L181.63,7.10M184.15,5.50L182.84,4.19M185.75,4.83L185.75,2.98M187.35,5.50L188.66,4.19" stroke="#f6faf4" stroke-width="1.25"/><circle cx="185.8" cy="7.1" r="2.27" fill="none" stroke="#f6faf4" stroke-width="1.35"/>
<g font-size="9.2" font-weight="bold">
<text x="195.8" y="10" fill="#1a1a1a" textLength="7" lengthAdjust="spacingAndGlyphs">O</text>
<text x="206.8" y="10" fill="#e01010" textLength="27.3" lengthAdjust="spacingAndGlyphs">3.9610</text>
<text x="237.8" y="10" fill="#1a1a1a" textLength="6.4" lengthAdjust="spacingAndGlyphs">H</text>
<text x="248.5" y="10" fill="#e01010" textLength="27.3" lengthAdjust="spacingAndGlyphs">3.9850</text>
<text x="280" y="10" fill="#1a1a1a" textLength="4.8" lengthAdjust="spacingAndGlyphs">L</text>
<text x="288.6" y="10" fill="#e01010" textLength="27.3" lengthAdjust="spacingAndGlyphs">3.7960</text>
<text x="321" y="10" fill="#1a1a1a" textLength="6" lengthAdjust="spacingAndGlyphs">C</text>
<text x="330.9" y="10" fill="#e01010" textLength="27.3" lengthAdjust="spacingAndGlyphs">3.8000</text>
</g>
<text x="1.5" y="25.0" font-size="9.1" fill="#000" stroke="#000" stroke-width="0.25" textLength="63" lengthAdjust="spacingAndGlyphs">EMA (90, close)</text>
<path d="M67.4,20.7h5.2l-2.6,3z" fill="#cdb3e6"/>
<rect x="80.5" y="17.2" width="10.3" height="9.5" fill="#cbd1ca"/>
<ellipse cx="85.7" cy="21.9" rx="3.7" ry="2.6" fill="none" stroke="#f6faf4" stroke-width="1.3"/><circle cx="85.7" cy="21.9" r="1.2" fill="#f4f8f2"/>
<rect x="93.0" y="17.2" width="10.3" height="9.5" fill="#cbd1ca"/>
<path d="M100.42,21.95L102.27,21.95M99.75,23.55L101.06,24.86M98.15,24.22L98.15,26.07M96.55,23.55L95.24,24.86M95.88,21.95L94.03,21.95M96.55,20.35L95.24,19.04M98.15,19.68L98.15,17.83M99.75,20.35L101.06,19.04" stroke="#f6faf4" stroke-width="1.25"/><circle cx="98.2" cy="21.9" r="2.27" fill="none" stroke="#f6faf4" stroke-width="1.35"/>
<rect x="105.5" y="17.2" width="10.3" height="9.5" fill="#cbd1ca"/>
<path d="M107.3,21.9H114.0M110.7,18.6V25.3" stroke="#f6faf4" stroke-width="1.8"/>
<rect x="118.0" y="17.2" width="10.3" height="9.5" fill="#cbd1ca"/>
<path d="M120.1,18.9L126.2,25.0M126.2,18.9L120.1,25.0" stroke="#f6faf4" stroke-width="1.5"/>
<text x="134" y="25.0" font-size="9.2" font-weight="bold" fill="#8a14f0" textLength="27.6" lengthAdjust="spacingAndGlyphs">3.7360</text>
<text x="1.5" y="40.2" font-size="9.1" fill="#000" stroke="#000" stroke-width="0.25" textLength="57" lengthAdjust="spacingAndGlyphs">MA (21, close)</text>
<path d="M61.4,35.9h5.2l-2.6,3z" fill="#cdb3e6"/>
<rect x="74.5" y="32.4" width="10.3" height="9.5" fill="#cbd1ca"/>
<ellipse cx="79.7" cy="37.2" rx="3.7" ry="2.6" fill="none" stroke="#f6faf4" stroke-width="1.3"/><circle cx="79.7" cy="37.2" r="1.2" fill="#f4f8f2"/>
<rect x="87.0" y="32.4" width="10.3" height="9.5" fill="#cbd1ca"/>
<path d="M94.42,37.15L96.27,37.15M93.75,38.75L95.06,40.06M92.15,39.42L92.15,41.27M90.55,38.75L89.24,40.06M89.88,37.15L88.03,37.15M90.55,35.55L89.24,34.24M92.15,34.88L92.15,33.03M93.75,35.55L95.06,34.24" stroke="#f6faf4" stroke-width="1.25"/><circle cx="92.2" cy="37.2" r="2.27" fill="none" stroke="#f6faf4" stroke-width="1.35"/>
<rect x="99.5" y="32.4" width="10.3" height="9.5" fill="#cbd1ca"/>
<path d="M101.3,37.2H108.0M104.7,33.8V40.5" stroke="#f6faf4" stroke-width="1.8"/>
<rect x="112.0" y="32.4" width="10.3" height="9.5" fill="#cbd1ca"/>
<path d="M114.1,34.1L120.2,40.2M120.2,34.1L114.1,40.2" stroke="#f6faf4" stroke-width="1.5"/>
<text x="128.2" y="40.2" font-size="9.2" font-weight="bold" fill="#0a0af0" textLength="27.6" lengthAdjust="spacingAndGlyphs">4.0787</text>
<text x="1.5" y="55.6" font-size="9.1" fill="#000" stroke="#000" stroke-width="0.25" textLength="57.5" lengthAdjust="spacingAndGlyphs">EMA (7, close)</text>
<path d="M62.4,51.3h5.2l-2.6,3z" fill="#cdb3e6"/>
<rect x="75.0" y="47.8" width="10.3" height="9.5" fill="#cbd1ca"/>
<ellipse cx="80.2" cy="52.6" rx="3.7" ry="2.6" fill="none" stroke="#f6faf4" stroke-width="1.3"/><circle cx="80.2" cy="52.6" r="1.2" fill="#f4f8f2"/>
<rect x="87.5" y="47.8" width="10.3" height="9.5" fill="#cbd1ca"/>
<path d="M94.92,52.55L96.77,52.55M94.25,54.15L95.56,55.46M92.65,54.82L92.65,56.67M91.05,54.15L89.74,55.46M90.38,52.55L88.53,52.55M91.05,50.95L89.74,49.64M92.65,50.28L92.65,48.43M94.25,50.95L95.56,49.64" stroke="#f6faf4" stroke-width="1.25"/><circle cx="92.7" cy="52.6" r="2.27" fill="none" stroke="#f6faf4" stroke-width="1.35"/>
<rect x="100.0" y="47.8" width="10.3" height="9.5" fill="#cbd1ca"/>
<path d="M101.8,52.6H108.5M105.2,49.2V55.9" stroke="#f6faf4" stroke-width="1.8"/>
<rect x="112.5" y="47.8" width="10.3" height="9.5" fill="#cbd1ca"/>
<path d="M114.6,49.5L120.7,55.6M120.7,49.5L114.6,55.6" stroke="#f6faf4" stroke-width="1.5"/>
<text x="129" y="55.6" font-size="9.2" font-weight="bold" fill="#1c5cff" textLength="27.6" lengthAdjust="spacingAndGlyphs">3.8670</text>
<text x="1.5" y="71.1" font-size="9.1" fill="#000" stroke="#000" stroke-width="0.25" textLength="62.5" lengthAdjust="spacingAndGlyphs">EMA (55, close)</text>
<path d="M67.4,66.8h5.2l-2.6,3z" fill="#cdb3e6"/>
<rect x="80.5" y="63.3" width="10.3" height="9.5" fill="#cbd1ca"/>
<ellipse cx="85.7" cy="68.0" rx="3.7" ry="2.6" fill="none" stroke="#f6faf4" stroke-width="1.3"/><circle cx="85.7" cy="68.0" r="1.2" fill="#f4f8f2"/>
<rect x="93.0" y="63.3" width="10.3" height="9.5" fill="#cbd1ca"/>
<path d="M100.42,68.05L102.27,68.05M99.75,69.65L101.06,70.96M98.15,70.32L98.15,72.17M96.55,69.65L95.24,70.96M95.88,68.05L94.03,68.05M96.55,66.45L95.24,65.14M98.15,65.78L98.15,63.93M99.75,66.45L101.06,65.14" stroke="#f6faf4" stroke-width="1.25"/><circle cx="98.2" cy="68.0" r="2.27" fill="none" stroke="#f6faf4" stroke-width="1.35"/>
<rect x="105.5" y="63.3" width="10.3" height="9.5" fill="#cbd1ca"/>
<path d="M107.3,68.0H114.0M110.7,64.7V71.4" stroke="#f6faf4" stroke-width="1.8"/>
<rect x="118.0" y="63.3" width="10.3" height="9.5" fill="#cbd1ca"/>
<path d="M120.1,65.0L126.2,71.1M126.2,65.0L120.1,71.1" stroke="#f6faf4" stroke-width="1.5"/>
<text x="134" y="71.1" font-size="9.2" font-weight="bold" fill="#1c1c90" textLength="27.6" lengthAdjust="spacingAndGlyphs">3.9010</text>
<text x="1.5" y="86.7" font-size="9.1" fill="#000" stroke="#000" stroke-width="0.25" textLength="62" lengthAdjust="spacingAndGlyphs">MA (200, close)</text>
<path d="M66.9,82.4h5.2l-2.6,3z" fill="#cdb3e6"/>
<rect x="80.0" y="78.9" width="10.3" height="9.5" fill="#cbd1ca"/>
<ellipse cx="85.2" cy="83.7" rx="3.7" ry="2.6" fill="none" stroke="#f6faf4" stroke-width="1.3"/><circle cx="85.2" cy="83.7" r="1.2" fill="#f4f8f2"/>
<rect x="92.5" y="78.9" width="10.3" height="9.5" fill="#cbd1ca"/>
<path d="M99.92,83.65L101.77,83.65M99.25,85.25L100.56,86.56M97.65,85.92L97.65,87.77M96.05,85.25L94.74,86.56M95.38,83.65L93.53,83.65M96.05,82.05L94.74,80.74M97.65,81.38L97.65,79.53M99.25,82.05L100.56,80.74" stroke="#f6faf4" stroke-width="1.25"/><circle cx="97.7" cy="83.7" r="2.27" fill="none" stroke="#f6faf4" stroke-width="1.35"/>
<rect x="105.0" y="78.9" width="10.3" height="9.5" fill="#cbd1ca"/>
<path d="M106.8,83.7H113.5M110.2,80.3V87.0" stroke="#f6faf4" stroke-width="1.8"/>
<rect x="117.5" y="78.9" width="10.3" height="9.5" fill="#cbd1ca"/>
<path d="M119.6,80.6L125.7,86.7M125.7,80.6L119.6,86.7" stroke="#f6faf4" stroke-width="1.5"/>
<text x="133" y="86.7" font-size="9.2" font-weight="bold" fill="#3a8a1a" textLength="27.6" lengthAdjust="spacingAndGlyphs">3.2822</text>
<text x="1.5" y="102.1" font-size="9.1" fill="#000" stroke="#000" stroke-width="0.25" textLength="93" lengthAdjust="spacingAndGlyphs">Ichimoku (9, 26, 52, 26)</text>
<path d="M97.4,97.8h5.2l-2.6,3z" fill="#cdb3e6"/>
<rect x="110.5" y="94.3" width="10.3" height="9.5" fill="#cbd1ca"/>
<ellipse cx="115.7" cy="99.0" rx="3.7" ry="2.6" fill="none" stroke="#f6faf4" stroke-width="1.3"/><circle cx="115.7" cy="99.0" r="1.2" fill="#f4f8f2"/>
<rect x="123.0" y="94.3" width="10.3" height="9.5" fill="#cbd1ca"/>
<path d="M130.42,99.05L132.27,99.05M129.75,100.65L131.06,101.96M128.15,101.32L128.15,103.17M126.55,100.65L125.24,101.96M125.88,99.05L124.03,99.05M126.55,97.45L125.24,96.14M128.15,96.78L128.15,94.93M129.75,97.45L131.06,96.14" stroke="#f6faf4" stroke-width="1.25"/><circle cx="128.2" cy="99.0" r="2.27" fill="none" stroke="#f6faf4" stroke-width="1.35"/>
<rect x="135.5" y="94.3" width="10.3" height="9.5" fill="#cbd1ca"/>
<path d="M137.3,99.0H144.0M140.7,95.7V102.4" stroke="#f6faf4" stroke-width="1.8"/>
<rect x="148.0" y="94.3" width="10.3" height="9.5" fill="#cbd1ca"/>
<path d="M150.1,96.0L156.2,102.1M156.2,96.0L150.1,102.1" stroke="#f6faf4" stroke-width="1.5"/>
<text x="164.5" y="102.1" font-size="9.2" font-weight="bold" fill="#1a7aff" textLength="27.6" lengthAdjust="spacingAndGlyphs">3.8890</text>
<text x="196.3" y="102.1" font-size="9.2" font-weight="bold" fill="#8a0a0a" textLength="27.6" lengthAdjust="spacingAndGlyphs">4.1260</text>
<text x="227.7" y="102.1" font-size="9.2" font-weight="bold" fill="#2a8a2a" textLength="27.6" lengthAdjust="spacingAndGlyphs">3.8000</text>
<text x="259" y="102.1" font-size="9.2" font-weight="bold" fill="#0a5a0a" textLength="27.6" lengthAdjust="spacingAndGlyphs">4.0315</text>
<text x="290.8" y="102.1" font-size="9.2" font-weight="bold" fill="#f01010" textLength="27.6" lengthAdjust="spacingAndGlyphs">3.6075</text>
<text x="1.5" y="303.0" font-size="9.1" fill="#000" stroke="#000" stroke-width="0.25" textLength="58.5" lengthAdjust="spacingAndGlyphs">RSI (14, close)</text>
<path d="M63.4,298.7h5.2l-2.6,3z" fill="#cdb3e6"/>
<rect x="76.4" y="295.2" width="10.3" height="9.5" fill="#cbd1ca"/>
<ellipse cx="81.6" cy="299.9" rx="3.7" ry="2.6" fill="none" stroke="#f6faf4" stroke-width="1.3"/><circle cx="81.6" cy="299.9" r="1.2" fill="#f4f8f2"/>
<rect x="88.9" y="295.2" width="10.3" height="9.5" fill="#cbd1ca"/>
<path d="M96.32,299.95L98.17,299.95M95.65,301.55L96.96,302.86M94.05,302.22L94.05,304.07M92.45,301.55L91.14,302.86M91.78,299.95L89.93,299.95M92.45,298.35L91.14,297.04M94.05,297.68L94.05,295.83M95.65,298.35L96.96,297.04" stroke="#f6faf4" stroke-width="1.25"/><circle cx="94.1" cy="299.9" r="2.27" fill="none" stroke="#f6faf4" stroke-width="1.35"/>
<rect x="101.4" y="295.2" width="10.3" height="9.5" fill="#cbd1ca"/>
<path d="M103.2,299.9H109.9M106.6,296.6V303.3" stroke="#f6faf4" stroke-width="1.8"/>
<rect x="113.9" y="295.2" width="10.3" height="9.5" fill="#cbd1ca"/>
<path d="M116.0,296.9L122.1,303.0M122.1,296.9L116.0,303.0" stroke="#f6faf4" stroke-width="1.5"/>
<text x="130" y="303.0" font-size="9.2" font-weight="bold" fill="#9a0a9a" textLength="32.4" lengthAdjust="spacingAndGlyphs">45.6880</text>
<text x="1.5" y="419.6" font-size="9.1" fill="#000" stroke="#000" stroke-width="0.25" textLength="59" lengthAdjust="spacingAndGlyphs">CCI (50, close)</text>
<path d="M63.4,415.3h5.2l-2.6,3z" fill="#cdb3e6"/>
<rect x="77.0" y="411.8" width="10.3" height="9.5" fill="#cbd1ca"/>
<ellipse cx="82.2" cy="416.6" rx="3.7" ry="2.6" fill="none" stroke="#f6faf4" stroke-width="1.3"/><circle cx="82.2" cy="416.6" r="1.2" fill="#f4f8f2"/>
<rect x="89.5" y="411.8" width="10.3" height="9.5" fill="#cbd1ca"/>
<path d="M96.92,416.55L98.77,416.55M96.25,418.15L97.56,419.46M94.65,418.82L94.65,420.67M93.05,418.15L91.74,419.46M92.38,416.55L90.53,416.55M93.05,414.95L91.74,413.64M94.65,414.28L94.65,412.43M96.25,414.95L97.56,413.64" stroke="#f6faf4" stroke-width="1.25"/><circle cx="94.7" cy="416.6" r="2.27" fill="none" stroke="#f6faf4" stroke-width="1.35"/>
<rect x="102.0" y="411.8" width="10.3" height="9.5" fill="#cbd1ca"/>
<path d="M103.8,416.6H110.5M107.2,413.2V419.9" stroke="#f6faf4" stroke-width="1.8"/>
<rect x="114.5" y="411.8" width="10.3" height="9.5" fill="#cbd1ca"/>
<path d="M116.6,413.5L122.7,419.6M122.7,413.5L116.6,419.6" stroke="#f6faf4" stroke-width="1.5"/>
<text x="130" y="419.6" font-size="9.2" font-weight="bold" fill="#0a0af0" textLength="35.5" lengthAdjust="spacingAndGlyphs">-42.5713</text>
<text x="1.5" y="435.1" font-size="9.1" fill="#000" stroke="#000" stroke-width="0.25" textLength="59" lengthAdjust="spacingAndGlyphs">CCI (50, close)</text>
<path d="M63.4,430.8h5.2l-2.6,3z" fill="#cdb3e6"/>
<rect x="77.0" y="427.3" width="10.3" height="9.5" fill="#cbd1ca"/>
<ellipse cx="82.2" cy="432.1" rx="3.7" ry="2.6" fill="none" stroke="#f6faf4" stroke-width="1.3"/><circle cx="82.2" cy="432.1" r="1.2" fill="#f4f8f2"/>
<rect x="89.5" y="427.3" width="10.3" height="9.5" fill="#cbd1ca"/>
<path d="M96.92,432.05L98.77,432.05M96.25,433.65L97.56,434.96M94.65,434.32L94.65,436.17M93.05,433.65L91.74,434.96M92.38,432.05L90.53,432.05M93.05,430.45L91.74,429.14M94.65,429.78L94.65,427.93M96.25,430.45L97.56,429.14" stroke="#f6faf4" stroke-width="1.25"/><circle cx="94.7" cy="432.1" r="2.27" fill="none" stroke="#f6faf4" stroke-width="1.35"/>
<rect x="102.0" y="427.3" width="10.3" height="9.5" fill="#cbd1ca"/>
<path d="M103.8,432.1H110.5M107.2,428.7V435.4" stroke="#f6faf4" stroke-width="1.8"/>
<rect x="114.5" y="427.3" width="10.3" height="9.5" fill="#cbd1ca"/>
<path d="M116.6,429.0L122.7,435.1M122.7,429.0L116.6,435.1" stroke="#f6faf4" stroke-width="1.5"/>
<text x="130" y="435.1" font-size="9.2" font-weight="bold" fill="#0a0af0" textLength="35.5" lengthAdjust="spacingAndGlyphs">-42.5713</text>
<circle cx="660" cy="6.4" r="2.9" fill="#063a12"/>
<text x="665.9" y="8.6" font-size="7.4" font-weight="bold" fill="#0a4a2c" textLength="27.6" lengthAdjust="spacingAndGlyphs">realtime</text>
<rect x="670.3" y="12.7" width="9.8" height="9.8" fill="#cbd1ca"/>
<path d="M675.1999999999999,14.8v5.4m-1.8,-1.6l1.8,1.8l1.8,-1.8" stroke="#f4f8f2" stroke-width="1.1" fill="none"/>
<rect x="683" y="12.7" width="9.8" height="9.8" fill="#cbd1ca"/>
<path d="M687.9,14.6v6m-1.7,-1.5l1.7,1.7l1.7,-1.7m-3.4,-3l1.7,-1.7l1.7,1.7" stroke="#f4f8f2" stroke-width="1.1" fill="none"/>
</g>
</svg>
</body></html>
